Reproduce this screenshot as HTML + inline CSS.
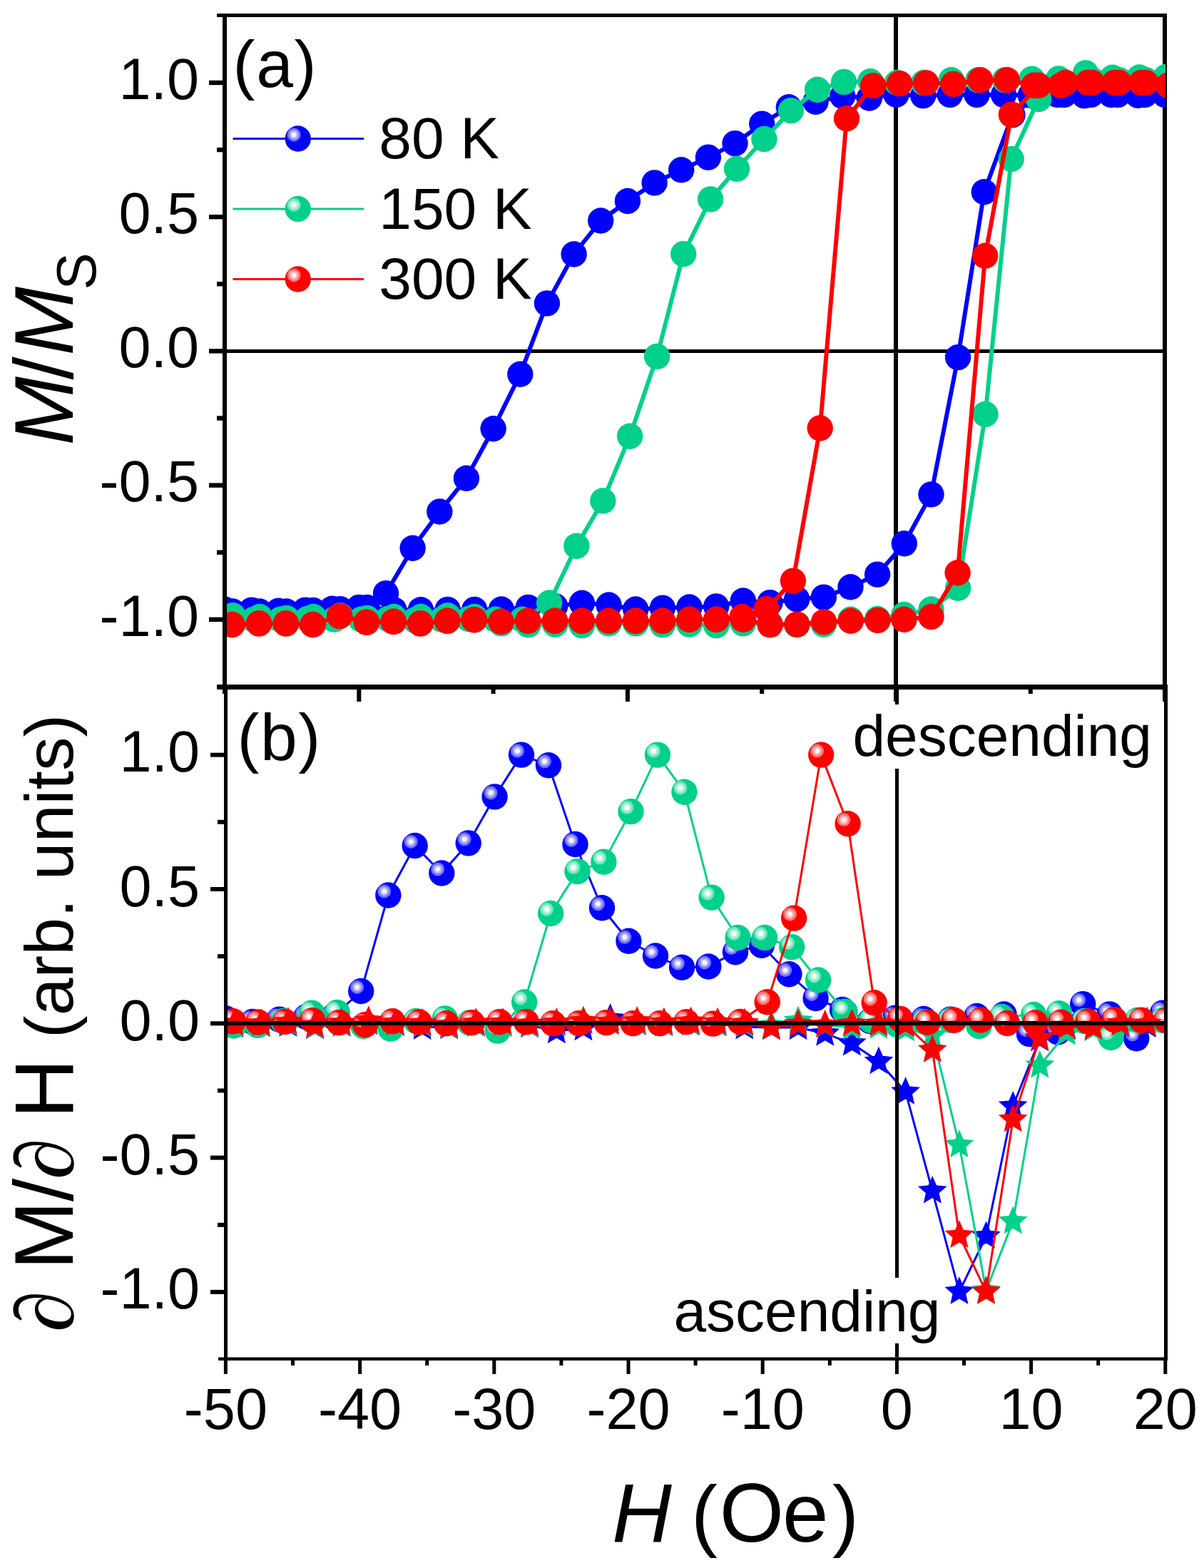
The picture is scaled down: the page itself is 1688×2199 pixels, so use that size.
<!DOCTYPE html>
<html><head><meta charset="utf-8"><title>M/Ms hysteresis</title><style>html,body{margin:0;padding:0;background:#fff;overflow:hidden;}svg{display:block;}</style></head><body>
<svg width="1688" height="2199" viewBox="0 0 1688 2199">
<rect width="1688" height="2199" fill="#fff"/>
<defs><clipPath id="ca"><rect x="318" y="22" width="1316" height="938"/></clipPath><clipPath id="cb"><rect x="319" y="967" width="1313" height="936"/></clipPath></defs>
<rect x="304.0" y="19.0" width="1332.0" height="5.0" fill="#000"/>
<rect x="312.0" y="19.0" width="6.0" height="954.0" fill="#000"/>
<rect x="1630.0" y="19.0" width="6.0" height="965.0" fill="#000"/>
<rect x="304.0" y="960.0" width="1333.0" height="7.0" fill="#000"/>
<rect x="318.0" y="490.0" width="1312.0" height="5.0" fill="#000"/>
<rect x="1253.0" y="24.0" width="6.0" height="960.0" fill="#000"/>
<rect x="293.0" y="112.8" width="19.0" height="6.4" fill="#000"/>
<rect x="293.0" y="301.0" width="19.0" height="6.4" fill="#000"/>
<rect x="293.0" y="489.2" width="19.0" height="6.4" fill="#000"/>
<rect x="293.0" y="677.4" width="19.0" height="6.4" fill="#000"/>
<rect x="293.0" y="865.6" width="19.0" height="6.4" fill="#000"/>
<rect x="304.0" y="206.9" width="8.0" height="6.4" fill="#000"/>
<rect x="304.0" y="395.1" width="8.0" height="6.4" fill="#000"/>
<rect x="304.0" y="583.3" width="8.0" height="6.4" fill="#000"/>
<rect x="304.0" y="771.5" width="8.0" height="6.4" fill="#000"/>
<rect x="500.3" y="967.0" width="6.0" height="17.0" fill="#000"/>
<rect x="876.9" y="967.0" width="6.0" height="17.0" fill="#000"/>
<rect x="1630.1" y="967.0" width="6.0" height="17.0" fill="#000"/>
<rect x="688.6" y="967.0" width="6.0" height="6.0" fill="#000"/>
<rect x="1065.2" y="967.0" width="6.0" height="6.0" fill="#000"/>
<rect x="1441.8" y="967.0" width="6.0" height="6.0" fill="#000"/>
<rect x="314.0" y="963.0" width="5.0" height="945.0" fill="#000"/>
<rect x="1632.0" y="963.0" width="5.0" height="945.0" fill="#000"/>
<rect x="306.0" y="1903.5" width="1331.0" height="4.5" fill="#000"/>
<rect x="295.0" y="1055.7" width="19.0" height="6.0" fill="#000"/>
<rect x="295.0" y="1244.0" width="19.0" height="6.0" fill="#000"/>
<rect x="295.0" y="1432.3" width="19.0" height="6.0" fill="#000"/>
<rect x="295.0" y="1620.6" width="19.0" height="6.0" fill="#000"/>
<rect x="295.0" y="1808.9" width="19.0" height="6.0" fill="#000"/>
<rect x="305.0" y="1149.8" width="9.0" height="6.0" fill="#000"/>
<rect x="305.0" y="1338.1" width="9.0" height="6.0" fill="#000"/>
<rect x="305.0" y="1526.5" width="9.0" height="6.0" fill="#000"/>
<rect x="305.0" y="1714.8" width="9.0" height="6.0" fill="#000"/>
<rect x="313.9" y="1908.0" width="5.0" height="19.0" fill="#000"/>
<rect x="502.1" y="1908.0" width="5.0" height="19.0" fill="#000"/>
<rect x="690.3" y="1908.0" width="5.0" height="19.0" fill="#000"/>
<rect x="878.5" y="1908.0" width="5.0" height="19.0" fill="#000"/>
<rect x="1066.7" y="1908.0" width="5.0" height="19.0" fill="#000"/>
<rect x="1254.9" y="1908.0" width="5.0" height="19.0" fill="#000"/>
<rect x="1443.1" y="1908.0" width="5.0" height="19.0" fill="#000"/>
<rect x="1631.3" y="1908.0" width="5.0" height="19.0" fill="#000"/>
<rect x="408.0" y="1908.0" width="5.0" height="7.0" fill="#000"/>
<rect x="596.2" y="1908.0" width="5.0" height="7.0" fill="#000"/>
<rect x="784.4" y="1908.0" width="5.0" height="7.0" fill="#000"/>
<rect x="972.6" y="1908.0" width="5.0" height="7.0" fill="#000"/>
<rect x="1160.8" y="1908.0" width="5.0" height="7.0" fill="#000"/>
<rect x="1349.0" y="1908.0" width="5.0" height="7.0" fill="#000"/>
<rect x="1537.2" y="1908.0" width="5.0" height="7.0" fill="#000"/>
<g clip-path="url(#ca)">
<polyline points="1633.1,132.9 1595.4,133.7 1557.8,132.9 1520.1,134.1 1482.5,132.9 1444.8,133.7 1407.1,132.9 1369.5,132.9 1331.8,132.9 1294.2,134.1 1256.5,132.6 1218.8,137.5 1181.2,134.8 1143.5,142.7 1105.9,150.3 1068.2,173.6 1030.5,201.1 992.9,220.6 955.2,238.3 917.6,256.4 879.9,282.0 842.2,309.5 804.6,356.5 766.9,425.4 729.3,524.8 691.6,601.2 653.9,670.8 616.3,717.5 578.6,768.7 541.0,832.1 503.3,851.9 465.6,853.7 428.0,855.6 390.3,856.8 352.7,855.6 315.0,854.5 326.3,857.5 364.0,857.5 401.6,857.5 439.3,856.0 476.9,854.1 514.6,851.9 552.3,855.2 589.9,855.2 627.6,854.9 665.2,854.9 702.9,854.5 740.6,851.9 778.2,850.0 815.9,845.8 853.5,848.5 891.2,854.5 928.9,852.6 966.5,851.5 1004.2,850.4 1041.8,842.5 1079.5,845.1 1117.2,840.2 1154.8,837.6 1192.5,823.3 1230.1,805.6 1267.8,762.3 1305.5,693.4 1343.1,501.1 1379.8,269.2 1419.4,161.2 1454.2,134.8 1491.9,132.9 1529.5,132.9 1567.2,132.9 1604.9,132.9" fill="none" stroke="#0000FF" stroke-width="6" stroke-linejoin="round"/>
<circle cx="1633.1" cy="132.9" r="18.2" fill="#0000FF"/><circle cx="1595.4" cy="133.7" r="18.2" fill="#0000FF"/><circle cx="1557.8" cy="132.9" r="18.2" fill="#0000FF"/><circle cx="1520.1" cy="134.1" r="18.2" fill="#0000FF"/><circle cx="1482.5" cy="132.9" r="18.2" fill="#0000FF"/><circle cx="1444.8" cy="133.7" r="18.2" fill="#0000FF"/><circle cx="1407.1" cy="132.9" r="18.2" fill="#0000FF"/><circle cx="1369.5" cy="132.9" r="18.2" fill="#0000FF"/><circle cx="1331.8" cy="132.9" r="18.2" fill="#0000FF"/><circle cx="1294.2" cy="134.1" r="18.2" fill="#0000FF"/><circle cx="1256.5" cy="132.6" r="18.2" fill="#0000FF"/><circle cx="1218.8" cy="137.5" r="18.2" fill="#0000FF"/><circle cx="1181.2" cy="134.8" r="18.2" fill="#0000FF"/><circle cx="1143.5" cy="142.7" r="18.2" fill="#0000FF"/><circle cx="1105.9" cy="150.3" r="18.2" fill="#0000FF"/><circle cx="1068.2" cy="173.6" r="18.2" fill="#0000FF"/><circle cx="1030.5" cy="201.1" r="18.2" fill="#0000FF"/><circle cx="992.9" cy="220.6" r="18.2" fill="#0000FF"/><circle cx="955.2" cy="238.3" r="18.2" fill="#0000FF"/><circle cx="917.6" cy="256.4" r="18.2" fill="#0000FF"/><circle cx="879.9" cy="282.0" r="18.2" fill="#0000FF"/><circle cx="842.2" cy="309.5" r="18.2" fill="#0000FF"/><circle cx="804.6" cy="356.5" r="18.2" fill="#0000FF"/><circle cx="766.9" cy="425.4" r="18.2" fill="#0000FF"/><circle cx="729.3" cy="524.8" r="18.2" fill="#0000FF"/><circle cx="691.6" cy="601.2" r="18.2" fill="#0000FF"/><circle cx="653.9" cy="670.8" r="18.2" fill="#0000FF"/><circle cx="616.3" cy="717.5" r="18.2" fill="#0000FF"/><circle cx="578.6" cy="768.7" r="18.2" fill="#0000FF"/><circle cx="541.0" cy="832.1" r="18.2" fill="#0000FF"/><circle cx="503.3" cy="851.9" r="18.2" fill="#0000FF"/><circle cx="465.6" cy="853.7" r="18.2" fill="#0000FF"/><circle cx="428.0" cy="855.6" r="18.2" fill="#0000FF"/><circle cx="390.3" cy="856.8" r="18.2" fill="#0000FF"/><circle cx="352.7" cy="855.6" r="18.2" fill="#0000FF"/><circle cx="315.0" cy="854.5" r="18.2" fill="#0000FF"/><circle cx="326.3" cy="857.5" r="18.2" fill="#0000FF"/><circle cx="364.0" cy="857.5" r="18.2" fill="#0000FF"/><circle cx="401.6" cy="857.5" r="18.2" fill="#0000FF"/><circle cx="439.3" cy="856.0" r="18.2" fill="#0000FF"/><circle cx="476.9" cy="854.1" r="18.2" fill="#0000FF"/><circle cx="514.6" cy="851.9" r="18.2" fill="#0000FF"/><circle cx="552.3" cy="855.2" r="18.2" fill="#0000FF"/><circle cx="589.9" cy="855.2" r="18.2" fill="#0000FF"/><circle cx="627.6" cy="854.9" r="18.2" fill="#0000FF"/><circle cx="665.2" cy="854.9" r="18.2" fill="#0000FF"/><circle cx="702.9" cy="854.5" r="18.2" fill="#0000FF"/><circle cx="740.6" cy="851.9" r="18.2" fill="#0000FF"/><circle cx="778.2" cy="850.0" r="18.2" fill="#0000FF"/><circle cx="815.9" cy="845.8" r="18.2" fill="#0000FF"/><circle cx="853.5" cy="848.5" r="18.2" fill="#0000FF"/><circle cx="891.2" cy="854.5" r="18.2" fill="#0000FF"/><circle cx="928.9" cy="852.6" r="18.2" fill="#0000FF"/><circle cx="966.5" cy="851.5" r="18.2" fill="#0000FF"/><circle cx="1004.2" cy="850.4" r="18.2" fill="#0000FF"/><circle cx="1041.8" cy="842.5" r="18.2" fill="#0000FF"/><circle cx="1079.5" cy="845.1" r="18.2" fill="#0000FF"/><circle cx="1117.2" cy="840.2" r="18.2" fill="#0000FF"/><circle cx="1154.8" cy="837.6" r="18.2" fill="#0000FF"/><circle cx="1192.5" cy="823.3" r="18.2" fill="#0000FF"/><circle cx="1230.1" cy="805.6" r="18.2" fill="#0000FF"/><circle cx="1267.8" cy="762.3" r="18.2" fill="#0000FF"/><circle cx="1305.5" cy="693.4" r="18.2" fill="#0000FF"/><circle cx="1343.1" cy="501.1" r="18.2" fill="#0000FF"/><circle cx="1379.8" cy="269.2" r="18.2" fill="#0000FF"/><circle cx="1419.4" cy="161.2" r="18.2" fill="#0000FF"/><circle cx="1454.2" cy="134.8" r="18.2" fill="#0000FF"/><circle cx="1491.9" cy="132.9" r="18.2" fill="#0000FF"/><circle cx="1529.5" cy="132.9" r="18.2" fill="#0000FF"/><circle cx="1567.2" cy="132.9" r="18.2" fill="#0000FF"/><circle cx="1604.9" cy="132.9" r="18.2" fill="#0000FF"/>
<polyline points="1635.0,107.7 1597.3,108.5 1559.7,108.8 1522.0,102.4 1484.3,110.4 1446.7,110.7 1409.0,112.2 1371.4,112.2 1333.7,112.2 1295.1,116.0 1257.8,116.0 1220.2,114.1 1183.1,114.9 1146.0,125.8 1108.9,155.1 1071.4,195.0 1033.0,236.8 996.1,279.4 958.2,356.1 921.1,499.9 883.1,611.7 845.3,702.4 808.3,765.7 770.1,845.5 732.1,868.8 694.4,868.8 656.8,868.0 619.1,868.8 581.4,869.6 543.8,868.0 506.1,868.8 468.5,868.8 430.8,868.0 393.1,868.8 355.5,868.8 317.8,868.8 326.3,863.2 364.0,865.0 401.6,866.9 439.3,865.0 476.9,863.2 514.6,866.9 552.3,865.0 589.9,865.0 627.6,863.2 665.2,865.0 702.9,874.4 740.6,876.3 778.2,875.6 815.9,877.1 853.5,874.4 891.2,874.4 928.9,876.3 966.5,875.6 1004.2,877.1 1041.8,874.4 1079.5,874.4 1117.2,876.3 1154.8,875.6 1192.5,868.8 1230.1,868.0 1267.4,862.0 1305.5,854.5 1343.1,824.8 1381.5,580.9 1417.7,222.9 1456.1,139.0 1493.8,116.0 1531.4,112.2 1569.1,112.2 1606.7,112.2" fill="none" stroke="#00D08A" stroke-width="6" stroke-linejoin="round"/>
<circle cx="1635.0" cy="107.7" r="18.2" fill="#00D08A"/><circle cx="1597.3" cy="108.5" r="18.2" fill="#00D08A"/><circle cx="1559.7" cy="108.8" r="18.2" fill="#00D08A"/><circle cx="1522.0" cy="102.4" r="18.2" fill="#00D08A"/><circle cx="1484.3" cy="110.4" r="18.2" fill="#00D08A"/><circle cx="1446.7" cy="110.7" r="18.2" fill="#00D08A"/><circle cx="1409.0" cy="112.2" r="18.2" fill="#00D08A"/><circle cx="1371.4" cy="112.2" r="18.2" fill="#00D08A"/><circle cx="1333.7" cy="112.2" r="18.2" fill="#00D08A"/><circle cx="1295.1" cy="116.0" r="18.2" fill="#00D08A"/><circle cx="1257.8" cy="116.0" r="18.2" fill="#00D08A"/><circle cx="1220.2" cy="114.1" r="18.2" fill="#00D08A"/><circle cx="1183.1" cy="114.9" r="18.2" fill="#00D08A"/><circle cx="1146.0" cy="125.8" r="18.2" fill="#00D08A"/><circle cx="1108.9" cy="155.1" r="18.2" fill="#00D08A"/><circle cx="1071.4" cy="195.0" r="18.2" fill="#00D08A"/><circle cx="1033.0" cy="236.8" r="18.2" fill="#00D08A"/><circle cx="996.1" cy="279.4" r="18.2" fill="#00D08A"/><circle cx="958.2" cy="356.1" r="18.2" fill="#00D08A"/><circle cx="921.1" cy="499.9" r="18.2" fill="#00D08A"/><circle cx="883.1" cy="611.7" r="18.2" fill="#00D08A"/><circle cx="845.3" cy="702.4" r="18.2" fill="#00D08A"/><circle cx="808.3" cy="765.7" r="18.2" fill="#00D08A"/><circle cx="770.1" cy="845.5" r="18.2" fill="#00D08A"/><circle cx="732.1" cy="868.8" r="18.2" fill="#00D08A"/><circle cx="694.4" cy="868.8" r="18.2" fill="#00D08A"/><circle cx="656.8" cy="868.0" r="18.2" fill="#00D08A"/><circle cx="619.1" cy="868.8" r="18.2" fill="#00D08A"/><circle cx="581.4" cy="869.6" r="18.2" fill="#00D08A"/><circle cx="543.8" cy="868.0" r="18.2" fill="#00D08A"/><circle cx="506.1" cy="868.8" r="18.2" fill="#00D08A"/><circle cx="468.5" cy="868.8" r="18.2" fill="#00D08A"/><circle cx="430.8" cy="868.0" r="18.2" fill="#00D08A"/><circle cx="393.1" cy="868.8" r="18.2" fill="#00D08A"/><circle cx="355.5" cy="868.8" r="18.2" fill="#00D08A"/><circle cx="317.8" cy="868.8" r="18.2" fill="#00D08A"/><circle cx="326.3" cy="863.2" r="18.2" fill="#00D08A"/><circle cx="364.0" cy="865.0" r="18.2" fill="#00D08A"/><circle cx="401.6" cy="866.9" r="18.2" fill="#00D08A"/><circle cx="439.3" cy="865.0" r="18.2" fill="#00D08A"/><circle cx="476.9" cy="863.2" r="18.2" fill="#00D08A"/><circle cx="514.6" cy="866.9" r="18.2" fill="#00D08A"/><circle cx="552.3" cy="865.0" r="18.2" fill="#00D08A"/><circle cx="589.9" cy="865.0" r="18.2" fill="#00D08A"/><circle cx="627.6" cy="863.2" r="18.2" fill="#00D08A"/><circle cx="665.2" cy="865.0" r="18.2" fill="#00D08A"/><circle cx="702.9" cy="874.4" r="18.2" fill="#00D08A"/><circle cx="740.6" cy="876.3" r="18.2" fill="#00D08A"/><circle cx="778.2" cy="875.6" r="18.2" fill="#00D08A"/><circle cx="815.9" cy="877.1" r="18.2" fill="#00D08A"/><circle cx="853.5" cy="874.4" r="18.2" fill="#00D08A"/><circle cx="891.2" cy="874.4" r="18.2" fill="#00D08A"/><circle cx="928.9" cy="876.3" r="18.2" fill="#00D08A"/><circle cx="966.5" cy="875.6" r="18.2" fill="#00D08A"/><circle cx="1004.2" cy="877.1" r="18.2" fill="#00D08A"/><circle cx="1041.8" cy="874.4" r="18.2" fill="#00D08A"/><circle cx="1079.5" cy="874.4" r="18.2" fill="#00D08A"/><circle cx="1117.2" cy="876.3" r="18.2" fill="#00D08A"/><circle cx="1154.8" cy="875.6" r="18.2" fill="#00D08A"/><circle cx="1192.5" cy="868.8" r="18.2" fill="#00D08A"/><circle cx="1230.1" cy="868.0" r="18.2" fill="#00D08A"/><circle cx="1267.4" cy="862.0" r="18.2" fill="#00D08A"/><circle cx="1305.5" cy="854.5" r="18.2" fill="#00D08A"/><circle cx="1343.1" cy="824.8" r="18.2" fill="#00D08A"/><circle cx="1381.5" cy="580.9" r="18.2" fill="#00D08A"/><circle cx="1417.7" cy="222.9" r="18.2" fill="#00D08A"/><circle cx="1456.1" cy="139.0" r="18.2" fill="#00D08A"/><circle cx="1493.8" cy="116.0" r="18.2" fill="#00D08A"/><circle cx="1531.4" cy="112.2" r="18.2" fill="#00D08A"/><circle cx="1569.1" cy="112.2" r="18.2" fill="#00D08A"/><circle cx="1606.7" cy="112.2" r="18.2" fill="#00D08A"/>
<polyline points="1637.8,119.8 1600.1,116.0 1562.5,116.0 1524.8,116.0 1487.2,119.8 1449.5,119.8 1411.8,112.2 1374.2,112.2 1336.5,117.9 1298.3,116.4 1261.2,117.1 1224.1,120.1 1187.0,166.1 1149.7,600.4 1111.9,814.6 1074.4,854.1 1040.5,865.0 1004.3,868.8 966.5,868.8 928.8,870.7 891.1,870.7 853.4,870.7 815.7,870.7 778.0,870.7 740.2,870.7 702.5,871.8 664.8,869.2 627.1,870.7 589.4,874.4 551.7,871.8 513.9,872.6 476.2,863.9 438.5,876.0 400.8,874.4 363.1,874.4 325.4,876.0 325.4,876.0 363.1,874.4 400.8,874.4 438.5,876.0 476.2,863.9 513.9,872.6 551.7,871.8 589.4,874.4 627.1,870.7 664.8,869.2 702.5,871.8 740.2,870.7 778.0,870.7 815.7,870.7 853.4,870.7 891.1,870.7 928.8,870.7 966.5,868.8 1004.3,868.8 1042.0,868.8 1079.7,876.3 1117.4,875.6 1155.1,872.2 1192.8,870.7 1230.6,869.9 1267.4,868.8 1305.5,865.0 1342.6,803.3 1381.2,358.8 1417.9,160.8 1456.1,119.8 1493.8,116.0 1531.4,116.0 1569.1,116.0 1606.7,116.0" fill="none" stroke="#FF0000" stroke-width="6" stroke-linejoin="round"/>
<circle cx="1637.8" cy="119.8" r="18.2" fill="#FF0000"/><circle cx="1600.1" cy="116.0" r="18.2" fill="#FF0000"/><circle cx="1562.5" cy="116.0" r="18.2" fill="#FF0000"/><circle cx="1524.8" cy="116.0" r="18.2" fill="#FF0000"/><circle cx="1487.2" cy="119.8" r="18.2" fill="#FF0000"/><circle cx="1449.5" cy="119.8" r="18.2" fill="#FF0000"/><circle cx="1411.8" cy="112.2" r="18.2" fill="#FF0000"/><circle cx="1374.2" cy="112.2" r="18.2" fill="#FF0000"/><circle cx="1336.5" cy="117.9" r="18.2" fill="#FF0000"/><circle cx="1298.3" cy="116.4" r="18.2" fill="#FF0000"/><circle cx="1261.2" cy="117.1" r="18.2" fill="#FF0000"/><circle cx="1224.1" cy="120.1" r="18.2" fill="#FF0000"/><circle cx="1187.0" cy="166.1" r="18.2" fill="#FF0000"/><circle cx="1149.7" cy="600.4" r="18.2" fill="#FF0000"/><circle cx="1111.9" cy="814.6" r="18.2" fill="#FF0000"/><circle cx="1074.4" cy="854.1" r="18.2" fill="#FF0000"/><circle cx="1040.5" cy="865.0" r="18.2" fill="#FF0000"/><circle cx="1004.3" cy="868.8" r="18.2" fill="#FF0000"/><circle cx="966.5" cy="868.8" r="18.2" fill="#FF0000"/><circle cx="928.8" cy="870.7" r="18.2" fill="#FF0000"/><circle cx="891.1" cy="870.7" r="18.2" fill="#FF0000"/><circle cx="853.4" cy="870.7" r="18.2" fill="#FF0000"/><circle cx="815.7" cy="870.7" r="18.2" fill="#FF0000"/><circle cx="778.0" cy="870.7" r="18.2" fill="#FF0000"/><circle cx="740.2" cy="870.7" r="18.2" fill="#FF0000"/><circle cx="702.5" cy="871.8" r="18.2" fill="#FF0000"/><circle cx="664.8" cy="869.2" r="18.2" fill="#FF0000"/><circle cx="627.1" cy="870.7" r="18.2" fill="#FF0000"/><circle cx="589.4" cy="874.4" r="18.2" fill="#FF0000"/><circle cx="551.7" cy="871.8" r="18.2" fill="#FF0000"/><circle cx="513.9" cy="872.6" r="18.2" fill="#FF0000"/><circle cx="476.2" cy="863.9" r="18.2" fill="#FF0000"/><circle cx="438.5" cy="876.0" r="18.2" fill="#FF0000"/><circle cx="400.8" cy="874.4" r="18.2" fill="#FF0000"/><circle cx="363.1" cy="874.4" r="18.2" fill="#FF0000"/><circle cx="325.4" cy="876.0" r="18.2" fill="#FF0000"/><circle cx="325.4" cy="876.0" r="18.2" fill="#FF0000"/><circle cx="363.1" cy="874.4" r="18.2" fill="#FF0000"/><circle cx="400.8" cy="874.4" r="18.2" fill="#FF0000"/><circle cx="438.5" cy="876.0" r="18.2" fill="#FF0000"/><circle cx="476.2" cy="863.9" r="18.2" fill="#FF0000"/><circle cx="513.9" cy="872.6" r="18.2" fill="#FF0000"/><circle cx="551.7" cy="871.8" r="18.2" fill="#FF0000"/><circle cx="589.4" cy="874.4" r="18.2" fill="#FF0000"/><circle cx="627.1" cy="870.7" r="18.2" fill="#FF0000"/><circle cx="664.8" cy="869.2" r="18.2" fill="#FF0000"/><circle cx="702.5" cy="871.8" r="18.2" fill="#FF0000"/><circle cx="740.2" cy="870.7" r="18.2" fill="#FF0000"/><circle cx="778.0" cy="870.7" r="18.2" fill="#FF0000"/><circle cx="815.7" cy="870.7" r="18.2" fill="#FF0000"/><circle cx="853.4" cy="870.7" r="18.2" fill="#FF0000"/><circle cx="891.1" cy="870.7" r="18.2" fill="#FF0000"/><circle cx="928.8" cy="870.7" r="18.2" fill="#FF0000"/><circle cx="966.5" cy="868.8" r="18.2" fill="#FF0000"/><circle cx="1004.3" cy="868.8" r="18.2" fill="#FF0000"/><circle cx="1042.0" cy="868.8" r="18.2" fill="#FF0000"/><circle cx="1079.7" cy="876.3" r="18.2" fill="#FF0000"/><circle cx="1117.4" cy="875.6" r="18.2" fill="#FF0000"/><circle cx="1155.1" cy="872.2" r="18.2" fill="#FF0000"/><circle cx="1192.8" cy="870.7" r="18.2" fill="#FF0000"/><circle cx="1230.6" cy="869.9" r="18.2" fill="#FF0000"/><circle cx="1267.4" cy="868.8" r="18.2" fill="#FF0000"/><circle cx="1305.5" cy="865.0" r="18.2" fill="#FF0000"/><circle cx="1342.6" cy="803.3" r="18.2" fill="#FF0000"/><circle cx="1381.2" cy="358.8" r="18.2" fill="#FF0000"/><circle cx="1417.9" cy="160.8" r="18.2" fill="#FF0000"/><circle cx="1456.1" cy="119.8" r="18.2" fill="#FF0000"/><circle cx="1493.8" cy="116.0" r="18.2" fill="#FF0000"/><circle cx="1531.4" cy="116.0" r="18.2" fill="#FF0000"/><circle cx="1569.1" cy="116.0" r="18.2" fill="#FF0000"/><circle cx="1606.7" cy="116.0" r="18.2" fill="#FF0000"/>
</g>
<g clip-path="url(#cb)">
<polyline points="1630.1,1420.6 1593.2,1456.3 1555.7,1422.4 1518.2,1408.1 1483.2,1447.4 1443.0,1450.0 1407.5,1422.5 1369.5,1425.0 1332.6,1429.6 1295.0,1429.0 1254.9,1427.7 1219.8,1432.0 1181.0,1416.0 1143.6,1400.0 1106.4,1366.2 1067.9,1325.7 1031.0,1335.2 993.3,1355.5 956.0,1356.7 919.0,1340.5 881.4,1319.8 844.0,1273.3 806.5,1184.0 769.0,1073.3 731.0,1058.6 693.6,1117.4 656.7,1182.4 619.3,1224.5 581.7,1186.0 544.3,1255.5 506.2,1390.0 467.0,1426.0 429.3,1426.0 391.7,1429.6 354.0,1433.0 316.4,1428.2" fill="none" stroke="#0000FF" stroke-width="3" stroke-linejoin="round"/>
<circle cx="1630.1" cy="1420.6" r="18.2" fill="#0000FF"/><circle cx="1624.5" cy="1415.0" r="9.5" fill="#7373FF"/><circle cx="1624.5" cy="1415.0" r="6.4" fill="#B2B2FF"/><circle cx="1624.5" cy="1415.0" r="3.4" fill="#F7F7FF"/><circle cx="1593.2" cy="1456.3" r="18.2" fill="#0000FF"/><circle cx="1587.6" cy="1450.7" r="9.5" fill="#7373FF"/><circle cx="1587.6" cy="1450.7" r="6.4" fill="#B2B2FF"/><circle cx="1587.6" cy="1450.7" r="3.4" fill="#F7F7FF"/><circle cx="1555.7" cy="1422.4" r="18.2" fill="#0000FF"/><circle cx="1550.1" cy="1416.8" r="9.5" fill="#7373FF"/><circle cx="1550.1" cy="1416.8" r="6.4" fill="#B2B2FF"/><circle cx="1550.1" cy="1416.8" r="3.4" fill="#F7F7FF"/><circle cx="1518.2" cy="1408.1" r="18.2" fill="#0000FF"/><circle cx="1512.6" cy="1402.5" r="9.5" fill="#7373FF"/><circle cx="1512.6" cy="1402.5" r="6.4" fill="#B2B2FF"/><circle cx="1512.6" cy="1402.5" r="3.4" fill="#F7F7FF"/><circle cx="1483.2" cy="1447.4" r="18.2" fill="#0000FF"/><circle cx="1477.6" cy="1441.8" r="9.5" fill="#7373FF"/><circle cx="1477.6" cy="1441.8" r="6.4" fill="#B2B2FF"/><circle cx="1477.6" cy="1441.8" r="3.4" fill="#F7F7FF"/><circle cx="1443.0" cy="1450.0" r="18.2" fill="#0000FF"/><circle cx="1437.4" cy="1444.4" r="9.5" fill="#7373FF"/><circle cx="1437.4" cy="1444.4" r="6.4" fill="#B2B2FF"/><circle cx="1437.4" cy="1444.4" r="3.4" fill="#F7F7FF"/><circle cx="1407.5" cy="1422.5" r="18.2" fill="#0000FF"/><circle cx="1401.9" cy="1416.9" r="9.5" fill="#7373FF"/><circle cx="1401.9" cy="1416.9" r="6.4" fill="#B2B2FF"/><circle cx="1401.9" cy="1416.9" r="3.4" fill="#F7F7FF"/><circle cx="1369.5" cy="1425.0" r="18.2" fill="#0000FF"/><circle cx="1363.9" cy="1419.4" r="9.5" fill="#7373FF"/><circle cx="1363.9" cy="1419.4" r="6.4" fill="#B2B2FF"/><circle cx="1363.9" cy="1419.4" r="3.4" fill="#F7F7FF"/><circle cx="1332.6" cy="1429.6" r="18.2" fill="#0000FF"/><circle cx="1327.0" cy="1424.0" r="9.5" fill="#7373FF"/><circle cx="1327.0" cy="1424.0" r="6.4" fill="#B2B2FF"/><circle cx="1327.0" cy="1424.0" r="3.4" fill="#F7F7FF"/><circle cx="1295.0" cy="1429.0" r="18.2" fill="#0000FF"/><circle cx="1289.4" cy="1423.4" r="9.5" fill="#7373FF"/><circle cx="1289.4" cy="1423.4" r="6.4" fill="#B2B2FF"/><circle cx="1289.4" cy="1423.4" r="3.4" fill="#F7F7FF"/><circle cx="1254.9" cy="1427.7" r="18.2" fill="#0000FF"/><circle cx="1249.3" cy="1422.1" r="9.5" fill="#7373FF"/><circle cx="1249.3" cy="1422.1" r="6.4" fill="#B2B2FF"/><circle cx="1249.3" cy="1422.1" r="3.4" fill="#F7F7FF"/><circle cx="1219.8" cy="1432.0" r="18.2" fill="#0000FF"/><circle cx="1214.2" cy="1426.4" r="9.5" fill="#7373FF"/><circle cx="1214.2" cy="1426.4" r="6.4" fill="#B2B2FF"/><circle cx="1214.2" cy="1426.4" r="3.4" fill="#F7F7FF"/><circle cx="1181.0" cy="1416.0" r="18.2" fill="#0000FF"/><circle cx="1175.4" cy="1410.4" r="9.5" fill="#7373FF"/><circle cx="1175.4" cy="1410.4" r="6.4" fill="#B2B2FF"/><circle cx="1175.4" cy="1410.4" r="3.4" fill="#F7F7FF"/><circle cx="1143.6" cy="1400.0" r="18.2" fill="#0000FF"/><circle cx="1138.0" cy="1394.4" r="9.5" fill="#7373FF"/><circle cx="1138.0" cy="1394.4" r="6.4" fill="#B2B2FF"/><circle cx="1138.0" cy="1394.4" r="3.4" fill="#F7F7FF"/><circle cx="1106.4" cy="1366.2" r="18.2" fill="#0000FF"/><circle cx="1100.8" cy="1360.6" r="9.5" fill="#7373FF"/><circle cx="1100.8" cy="1360.6" r="6.4" fill="#B2B2FF"/><circle cx="1100.8" cy="1360.6" r="3.4" fill="#F7F7FF"/><circle cx="1067.9" cy="1325.7" r="18.2" fill="#0000FF"/><circle cx="1062.3" cy="1320.1" r="9.5" fill="#7373FF"/><circle cx="1062.3" cy="1320.1" r="6.4" fill="#B2B2FF"/><circle cx="1062.3" cy="1320.1" r="3.4" fill="#F7F7FF"/><circle cx="1031.0" cy="1335.2" r="18.2" fill="#0000FF"/><circle cx="1025.4" cy="1329.6" r="9.5" fill="#7373FF"/><circle cx="1025.4" cy="1329.6" r="6.4" fill="#B2B2FF"/><circle cx="1025.4" cy="1329.6" r="3.4" fill="#F7F7FF"/><circle cx="993.3" cy="1355.5" r="18.2" fill="#0000FF"/><circle cx="987.7" cy="1349.9" r="9.5" fill="#7373FF"/><circle cx="987.7" cy="1349.9" r="6.4" fill="#B2B2FF"/><circle cx="987.7" cy="1349.9" r="3.4" fill="#F7F7FF"/><circle cx="956.0" cy="1356.7" r="18.2" fill="#0000FF"/><circle cx="950.4" cy="1351.1" r="9.5" fill="#7373FF"/><circle cx="950.4" cy="1351.1" r="6.4" fill="#B2B2FF"/><circle cx="950.4" cy="1351.1" r="3.4" fill="#F7F7FF"/><circle cx="919.0" cy="1340.5" r="18.2" fill="#0000FF"/><circle cx="913.4" cy="1334.9" r="9.5" fill="#7373FF"/><circle cx="913.4" cy="1334.9" r="6.4" fill="#B2B2FF"/><circle cx="913.4" cy="1334.9" r="3.4" fill="#F7F7FF"/><circle cx="881.4" cy="1319.8" r="18.2" fill="#0000FF"/><circle cx="875.8" cy="1314.2" r="9.5" fill="#7373FF"/><circle cx="875.8" cy="1314.2" r="6.4" fill="#B2B2FF"/><circle cx="875.8" cy="1314.2" r="3.4" fill="#F7F7FF"/><circle cx="844.0" cy="1273.3" r="18.2" fill="#0000FF"/><circle cx="838.4" cy="1267.7" r="9.5" fill="#7373FF"/><circle cx="838.4" cy="1267.7" r="6.4" fill="#B2B2FF"/><circle cx="838.4" cy="1267.7" r="3.4" fill="#F7F7FF"/><circle cx="806.5" cy="1184.0" r="18.2" fill="#0000FF"/><circle cx="800.9" cy="1178.4" r="9.5" fill="#7373FF"/><circle cx="800.9" cy="1178.4" r="6.4" fill="#B2B2FF"/><circle cx="800.9" cy="1178.4" r="3.4" fill="#F7F7FF"/><circle cx="769.0" cy="1073.3" r="18.2" fill="#0000FF"/><circle cx="763.4" cy="1067.7" r="9.5" fill="#7373FF"/><circle cx="763.4" cy="1067.7" r="6.4" fill="#B2B2FF"/><circle cx="763.4" cy="1067.7" r="3.4" fill="#F7F7FF"/><circle cx="731.0" cy="1058.6" r="18.2" fill="#0000FF"/><circle cx="725.4" cy="1053.0" r="9.5" fill="#7373FF"/><circle cx="725.4" cy="1053.0" r="6.4" fill="#B2B2FF"/><circle cx="725.4" cy="1053.0" r="3.4" fill="#F7F7FF"/><circle cx="693.6" cy="1117.4" r="18.2" fill="#0000FF"/><circle cx="688.0" cy="1111.8" r="9.5" fill="#7373FF"/><circle cx="688.0" cy="1111.8" r="6.4" fill="#B2B2FF"/><circle cx="688.0" cy="1111.8" r="3.4" fill="#F7F7FF"/><circle cx="656.7" cy="1182.4" r="18.2" fill="#0000FF"/><circle cx="651.1" cy="1176.8" r="9.5" fill="#7373FF"/><circle cx="651.1" cy="1176.8" r="6.4" fill="#B2B2FF"/><circle cx="651.1" cy="1176.8" r="3.4" fill="#F7F7FF"/><circle cx="619.3" cy="1224.5" r="18.2" fill="#0000FF"/><circle cx="613.7" cy="1218.9" r="9.5" fill="#7373FF"/><circle cx="613.7" cy="1218.9" r="6.4" fill="#B2B2FF"/><circle cx="613.7" cy="1218.9" r="3.4" fill="#F7F7FF"/><circle cx="581.7" cy="1186.0" r="18.2" fill="#0000FF"/><circle cx="576.1" cy="1180.4" r="9.5" fill="#7373FF"/><circle cx="576.1" cy="1180.4" r="6.4" fill="#B2B2FF"/><circle cx="576.1" cy="1180.4" r="3.4" fill="#F7F7FF"/><circle cx="544.3" cy="1255.5" r="18.2" fill="#0000FF"/><circle cx="538.7" cy="1249.9" r="9.5" fill="#7373FF"/><circle cx="538.7" cy="1249.9" r="6.4" fill="#B2B2FF"/><circle cx="538.7" cy="1249.9" r="3.4" fill="#F7F7FF"/><circle cx="506.2" cy="1390.0" r="18.2" fill="#0000FF"/><circle cx="500.6" cy="1384.4" r="9.5" fill="#7373FF"/><circle cx="500.6" cy="1384.4" r="6.4" fill="#B2B2FF"/><circle cx="500.6" cy="1384.4" r="3.4" fill="#F7F7FF"/><circle cx="467.0" cy="1426.0" r="18.2" fill="#0000FF"/><circle cx="461.4" cy="1420.4" r="9.5" fill="#7373FF"/><circle cx="461.4" cy="1420.4" r="6.4" fill="#B2B2FF"/><circle cx="461.4" cy="1420.4" r="3.4" fill="#F7F7FF"/><circle cx="429.3" cy="1426.0" r="18.2" fill="#0000FF"/><circle cx="423.7" cy="1420.4" r="9.5" fill="#7373FF"/><circle cx="423.7" cy="1420.4" r="6.4" fill="#B2B2FF"/><circle cx="423.7" cy="1420.4" r="3.4" fill="#F7F7FF"/><circle cx="391.7" cy="1429.6" r="18.2" fill="#0000FF"/><circle cx="386.1" cy="1424.0" r="9.5" fill="#7373FF"/><circle cx="386.1" cy="1424.0" r="6.4" fill="#B2B2FF"/><circle cx="386.1" cy="1424.0" r="3.4" fill="#F7F7FF"/><circle cx="354.0" cy="1433.0" r="18.2" fill="#0000FF"/><circle cx="348.4" cy="1427.4" r="9.5" fill="#7373FF"/><circle cx="348.4" cy="1427.4" r="6.4" fill="#B2B2FF"/><circle cx="348.4" cy="1427.4" r="3.4" fill="#F7F7FF"/><circle cx="316.4" cy="1428.2" r="18.2" fill="#0000FF"/><circle cx="310.8" cy="1422.6" r="9.5" fill="#7373FF"/><circle cx="310.8" cy="1422.6" r="6.4" fill="#B2B2FF"/><circle cx="310.8" cy="1422.6" r="3.4" fill="#F7F7FF"/>
<polyline points="328.6,1437.6 366.2,1437.0 403.9,1436.4 441.5,1440.0 479.2,1436.5 516.8,1434.0 554.4,1436.0 592.1,1440.6 629.7,1440.0 667.4,1436.5 705.0,1436.5 742.6,1438.0 780.3,1446.0 817.9,1442.0 855.6,1428.5 893.2,1434.5 930.8,1436.0 968.5,1435.0 1006.1,1436.0 1043.8,1440.2 1081.4,1441.0 1119.0,1441.0 1156.7,1449.4 1194.3,1463.3 1232.0,1488.8 1269.6,1531.4 1307.2,1670.3 1344.9,1811.6 1382.5,1733.8 1420.2,1551.4 1457.8,1457.0 1495.4,1441.0 1533.1,1442.0 1570.7,1437.0 1608.4,1437.6" fill="none" stroke="#0000FF" stroke-width="3" stroke-linejoin="round"/>
<path d="M328.6,1416.2 L334.4,1429.6 L349.0,1431.0 L338.0,1440.6 L341.2,1454.9 L328.6,1447.4 L316.0,1454.9 L319.2,1440.6 L308.2,1431.0 L322.8,1429.6Z M366.2,1415.6 L372.0,1429.0 L386.6,1430.4 L375.6,1440.0 L378.8,1454.3 L366.2,1446.8 L353.7,1454.3 L356.9,1440.0 L345.9,1430.4 L360.5,1429.0Z M403.9,1415.0 L409.7,1428.4 L424.2,1429.8 L413.2,1439.4 L416.5,1453.7 L403.9,1446.2 L391.3,1453.7 L394.5,1439.4 L383.5,1429.8 L398.1,1428.4Z M441.5,1418.6 L447.3,1432.0 L461.9,1433.4 L450.9,1443.0 L454.1,1457.3 L441.5,1449.8 L428.9,1457.3 L432.2,1443.0 L421.2,1433.4 L435.7,1432.0Z M479.2,1415.1 L484.9,1428.5 L499.5,1429.9 L488.5,1439.5 L491.7,1453.8 L479.2,1446.3 L466.6,1453.8 L469.8,1439.5 L458.8,1429.9 L473.4,1428.5Z M516.8,1412.6 L522.6,1426.0 L537.2,1427.4 L526.2,1437.0 L529.4,1451.3 L516.8,1443.8 L504.2,1451.3 L507.4,1437.0 L496.4,1427.4 L511.0,1426.0Z M554.4,1414.6 L560.2,1428.0 L574.8,1429.4 L563.8,1439.0 L567.0,1453.3 L554.4,1445.8 L541.9,1453.3 L545.1,1439.0 L534.1,1429.4 L548.7,1428.0Z M592.1,1419.2 L597.9,1432.6 L612.4,1434.0 L601.4,1443.6 L604.7,1457.9 L592.1,1450.4 L579.5,1457.9 L582.7,1443.6 L571.7,1434.0 L586.3,1432.6Z M629.7,1418.6 L635.5,1432.0 L650.1,1433.4 L639.1,1443.0 L642.3,1457.3 L629.7,1449.8 L617.1,1457.3 L620.4,1443.0 L609.4,1433.4 L623.9,1432.0Z M667.4,1415.1 L673.1,1428.5 L687.7,1429.9 L676.7,1439.5 L679.9,1453.8 L667.4,1446.3 L654.8,1453.8 L658.0,1439.5 L647.0,1429.9 L661.6,1428.5Z M705.0,1415.1 L710.8,1428.5 L725.4,1429.9 L714.4,1439.5 L717.6,1453.8 L705.0,1446.3 L692.4,1453.8 L695.6,1439.5 L684.6,1429.9 L699.2,1428.5Z M742.6,1416.6 L748.4,1430.0 L763.0,1431.4 L752.0,1441.0 L755.2,1455.3 L742.6,1447.8 L730.1,1455.3 L733.3,1441.0 L722.3,1431.4 L736.9,1430.0Z M780.3,1424.6 L786.1,1438.0 L800.6,1439.4 L789.6,1449.0 L792.9,1463.3 L780.3,1455.8 L767.7,1463.3 L770.9,1449.0 L759.9,1439.4 L774.5,1438.0Z M817.9,1420.6 L823.7,1434.0 L838.3,1435.4 L827.3,1445.0 L830.5,1459.3 L817.9,1451.8 L805.3,1459.3 L808.6,1445.0 L797.6,1435.4 L812.1,1434.0Z M855.6,1407.1 L861.3,1420.5 L875.9,1421.9 L864.9,1431.5 L868.1,1445.8 L855.6,1438.3 L843.0,1445.8 L846.2,1431.5 L835.2,1421.9 L849.8,1420.5Z M893.2,1413.1 L899.0,1426.5 L913.6,1427.9 L902.6,1437.5 L905.8,1451.8 L893.2,1444.3 L880.6,1451.8 L883.8,1437.5 L872.8,1427.9 L887.4,1426.5Z M930.8,1414.6 L936.6,1428.0 L951.2,1429.4 L940.2,1439.0 L943.4,1453.3 L930.8,1445.8 L918.3,1453.3 L921.5,1439.0 L910.5,1429.4 L925.1,1428.0Z M968.5,1413.6 L974.3,1427.0 L988.8,1428.4 L977.8,1438.0 L981.1,1452.3 L968.5,1444.8 L955.9,1452.3 L959.1,1438.0 L948.1,1428.4 L962.7,1427.0Z M1006.1,1414.6 L1011.9,1428.0 L1026.5,1429.4 L1015.5,1439.0 L1018.7,1453.3 L1006.1,1445.8 L993.5,1453.3 L996.8,1439.0 L985.8,1429.4 L1000.3,1428.0Z M1043.8,1418.8 L1049.5,1432.2 L1064.1,1433.6 L1053.1,1443.2 L1056.3,1457.5 L1043.8,1450.0 L1031.2,1457.5 L1034.4,1443.2 L1023.4,1433.6 L1038.0,1432.2Z M1081.4,1419.6 L1087.2,1433.0 L1101.8,1434.4 L1090.8,1444.0 L1094.0,1458.3 L1081.4,1450.8 L1068.8,1458.3 L1072.0,1444.0 L1061.0,1434.4 L1075.6,1433.0Z M1119.0,1419.6 L1124.8,1433.0 L1139.4,1434.4 L1128.4,1444.0 L1131.6,1458.3 L1119.0,1450.8 L1106.5,1458.3 L1109.7,1444.0 L1098.7,1434.4 L1113.3,1433.0Z M1156.7,1428.0 L1162.5,1441.4 L1177.0,1442.8 L1166.0,1452.4 L1169.3,1466.7 L1156.7,1459.2 L1144.1,1466.7 L1147.3,1452.4 L1136.3,1442.8 L1150.9,1441.4Z M1194.3,1441.9 L1200.1,1455.3 L1214.7,1456.7 L1203.7,1466.3 L1206.9,1480.6 L1194.3,1473.1 L1181.7,1480.6 L1185.0,1466.3 L1174.0,1456.7 L1188.5,1455.3Z M1232.0,1467.4 L1237.7,1480.8 L1252.3,1482.2 L1241.3,1491.8 L1244.5,1506.1 L1232.0,1498.6 L1219.4,1506.1 L1222.6,1491.8 L1211.6,1482.2 L1226.2,1480.8Z M1269.6,1510.0 L1275.4,1523.4 L1290.0,1524.8 L1279.0,1534.4 L1282.2,1548.7 L1269.6,1541.2 L1257.0,1548.7 L1260.2,1534.4 L1249.2,1524.8 L1263.8,1523.4Z M1307.2,1648.9 L1313.0,1662.3 L1327.6,1663.7 L1316.6,1673.3 L1319.8,1687.6 L1307.2,1680.1 L1294.7,1687.6 L1297.9,1673.3 L1286.9,1663.7 L1301.5,1662.3Z M1344.9,1790.2 L1350.7,1803.6 L1365.2,1805.0 L1354.2,1814.6 L1357.5,1828.9 L1344.9,1821.4 L1332.3,1828.9 L1335.5,1814.6 L1324.5,1805.0 L1339.1,1803.6Z M1382.5,1712.4 L1388.3,1725.8 L1402.9,1727.2 L1391.9,1736.8 L1395.1,1751.1 L1382.5,1743.6 L1369.9,1751.1 L1373.2,1736.8 L1362.2,1727.2 L1376.7,1725.8Z M1420.2,1530.0 L1425.9,1543.4 L1440.5,1544.8 L1429.5,1554.4 L1432.7,1568.7 L1420.2,1561.2 L1407.6,1568.7 L1410.8,1554.4 L1399.8,1544.8 L1414.4,1543.4Z M1457.8,1435.6 L1463.6,1449.0 L1478.2,1450.4 L1467.2,1460.0 L1470.4,1474.3 L1457.8,1466.8 L1445.2,1474.3 L1448.4,1460.0 L1437.4,1450.4 L1452.0,1449.0Z M1495.4,1419.6 L1501.2,1433.0 L1515.8,1434.4 L1504.8,1444.0 L1508.0,1458.3 L1495.4,1450.8 L1482.9,1458.3 L1486.1,1444.0 L1475.1,1434.4 L1489.7,1433.0Z M1533.1,1420.6 L1538.9,1434.0 L1553.4,1435.4 L1542.4,1445.0 L1545.7,1459.3 L1533.1,1451.8 L1520.5,1459.3 L1523.7,1445.0 L1512.7,1435.4 L1527.3,1434.0Z M1570.7,1415.6 L1576.5,1429.0 L1591.1,1430.4 L1580.1,1440.0 L1583.3,1454.3 L1570.7,1446.8 L1558.1,1454.3 L1561.4,1440.0 L1550.4,1430.4 L1564.9,1429.0Z M1608.4,1416.2 L1614.1,1429.6 L1628.7,1431.0 L1617.7,1440.6 L1620.9,1454.9 L1608.4,1447.4 L1595.8,1454.9 L1599.0,1440.6 L1588.0,1431.0 L1602.6,1429.6Z" fill="#0000FF"/>
<polyline points="1630.0,1431.0 1594.8,1430.8 1557.5,1455.0 1520.0,1432.0 1484.9,1421.2 1449.2,1423.0 1404.5,1426.0 1372.5,1439.0 1332.6,1430.8 1296.6,1433.2 1258.0,1437.0 1221.6,1431.3 1184.6,1418.8 1147.1,1374.5 1110.2,1328.1 1072.1,1315.0 1034.5,1315.0 997.6,1258.6 959.5,1110.7 921.9,1058.6 884.5,1138.1 846.4,1208.6 809.5,1222.1 772.1,1281.0 735.2,1405.5 697.7,1445.6 658.3,1434.4 623.8,1428.4 583.3,1432.0 547.6,1442.6 509.5,1439.0 472.7,1420.0 437.0,1420.6 397.0,1432.0 361.2,1437.9 327.9,1438.5" fill="none" stroke="#00D08A" stroke-width="3" stroke-linejoin="round"/>
<circle cx="1630.0" cy="1431.0" r="18.2" fill="#00D08A"/><circle cx="1624.4" cy="1425.4" r="9.5" fill="#73E5BF"/><circle cx="1624.4" cy="1425.4" r="6.4" fill="#B2F1DC"/><circle cx="1624.4" cy="1425.4" r="3.4" fill="#F7FEFB"/><circle cx="1594.8" cy="1430.8" r="18.2" fill="#00D08A"/><circle cx="1589.2" cy="1425.2" r="9.5" fill="#73E5BF"/><circle cx="1589.2" cy="1425.2" r="6.4" fill="#B2F1DC"/><circle cx="1589.2" cy="1425.2" r="3.4" fill="#F7FEFB"/><circle cx="1557.5" cy="1455.0" r="18.2" fill="#00D08A"/><circle cx="1551.9" cy="1449.4" r="9.5" fill="#73E5BF"/><circle cx="1551.9" cy="1449.4" r="6.4" fill="#B2F1DC"/><circle cx="1551.9" cy="1449.4" r="3.4" fill="#F7FEFB"/><circle cx="1520.0" cy="1432.0" r="18.2" fill="#00D08A"/><circle cx="1514.4" cy="1426.4" r="9.5" fill="#73E5BF"/><circle cx="1514.4" cy="1426.4" r="6.4" fill="#B2F1DC"/><circle cx="1514.4" cy="1426.4" r="3.4" fill="#F7FEFB"/><circle cx="1484.9" cy="1421.2" r="18.2" fill="#00D08A"/><circle cx="1479.3" cy="1415.6" r="9.5" fill="#73E5BF"/><circle cx="1479.3" cy="1415.6" r="6.4" fill="#B2F1DC"/><circle cx="1479.3" cy="1415.6" r="3.4" fill="#F7FEFB"/><circle cx="1449.2" cy="1423.0" r="18.2" fill="#00D08A"/><circle cx="1443.6" cy="1417.4" r="9.5" fill="#73E5BF"/><circle cx="1443.6" cy="1417.4" r="6.4" fill="#B2F1DC"/><circle cx="1443.6" cy="1417.4" r="3.4" fill="#F7FEFB"/><circle cx="1404.5" cy="1426.0" r="18.2" fill="#00D08A"/><circle cx="1398.9" cy="1420.4" r="9.5" fill="#73E5BF"/><circle cx="1398.9" cy="1420.4" r="6.4" fill="#B2F1DC"/><circle cx="1398.9" cy="1420.4" r="3.4" fill="#F7FEFB"/><circle cx="1372.5" cy="1439.0" r="18.2" fill="#00D08A"/><circle cx="1366.9" cy="1433.4" r="9.5" fill="#73E5BF"/><circle cx="1366.9" cy="1433.4" r="6.4" fill="#B2F1DC"/><circle cx="1366.9" cy="1433.4" r="3.4" fill="#F7FEFB"/><circle cx="1332.6" cy="1430.8" r="18.2" fill="#00D08A"/><circle cx="1327.0" cy="1425.2" r="9.5" fill="#73E5BF"/><circle cx="1327.0" cy="1425.2" r="6.4" fill="#B2F1DC"/><circle cx="1327.0" cy="1425.2" r="3.4" fill="#F7FEFB"/><circle cx="1296.6" cy="1433.2" r="18.2" fill="#00D08A"/><circle cx="1291.0" cy="1427.6" r="9.5" fill="#73E5BF"/><circle cx="1291.0" cy="1427.6" r="6.4" fill="#B2F1DC"/><circle cx="1291.0" cy="1427.6" r="3.4" fill="#F7FEFB"/><circle cx="1258.0" cy="1437.0" r="18.2" fill="#00D08A"/><circle cx="1252.4" cy="1431.4" r="9.5" fill="#73E5BF"/><circle cx="1252.4" cy="1431.4" r="6.4" fill="#B2F1DC"/><circle cx="1252.4" cy="1431.4" r="3.4" fill="#F7FEFB"/><circle cx="1221.6" cy="1431.3" r="18.2" fill="#00D08A"/><circle cx="1216.0" cy="1425.7" r="9.5" fill="#73E5BF"/><circle cx="1216.0" cy="1425.7" r="6.4" fill="#B2F1DC"/><circle cx="1216.0" cy="1425.7" r="3.4" fill="#F7FEFB"/><circle cx="1184.6" cy="1418.8" r="18.2" fill="#00D08A"/><circle cx="1179.0" cy="1413.2" r="9.5" fill="#73E5BF"/><circle cx="1179.0" cy="1413.2" r="6.4" fill="#B2F1DC"/><circle cx="1179.0" cy="1413.2" r="3.4" fill="#F7FEFB"/><circle cx="1147.1" cy="1374.5" r="18.2" fill="#00D08A"/><circle cx="1141.5" cy="1368.9" r="9.5" fill="#73E5BF"/><circle cx="1141.5" cy="1368.9" r="6.4" fill="#B2F1DC"/><circle cx="1141.5" cy="1368.9" r="3.4" fill="#F7FEFB"/><circle cx="1110.2" cy="1328.1" r="18.2" fill="#00D08A"/><circle cx="1104.6" cy="1322.5" r="9.5" fill="#73E5BF"/><circle cx="1104.6" cy="1322.5" r="6.4" fill="#B2F1DC"/><circle cx="1104.6" cy="1322.5" r="3.4" fill="#F7FEFB"/><circle cx="1072.1" cy="1315.0" r="18.2" fill="#00D08A"/><circle cx="1066.5" cy="1309.4" r="9.5" fill="#73E5BF"/><circle cx="1066.5" cy="1309.4" r="6.4" fill="#B2F1DC"/><circle cx="1066.5" cy="1309.4" r="3.4" fill="#F7FEFB"/><circle cx="1034.5" cy="1315.0" r="18.2" fill="#00D08A"/><circle cx="1028.9" cy="1309.4" r="9.5" fill="#73E5BF"/><circle cx="1028.9" cy="1309.4" r="6.4" fill="#B2F1DC"/><circle cx="1028.9" cy="1309.4" r="3.4" fill="#F7FEFB"/><circle cx="997.6" cy="1258.6" r="18.2" fill="#00D08A"/><circle cx="992.0" cy="1253.0" r="9.5" fill="#73E5BF"/><circle cx="992.0" cy="1253.0" r="6.4" fill="#B2F1DC"/><circle cx="992.0" cy="1253.0" r="3.4" fill="#F7FEFB"/><circle cx="959.5" cy="1110.7" r="18.2" fill="#00D08A"/><circle cx="953.9" cy="1105.1" r="9.5" fill="#73E5BF"/><circle cx="953.9" cy="1105.1" r="6.4" fill="#B2F1DC"/><circle cx="953.9" cy="1105.1" r="3.4" fill="#F7FEFB"/><circle cx="921.9" cy="1058.6" r="18.2" fill="#00D08A"/><circle cx="916.3" cy="1053.0" r="9.5" fill="#73E5BF"/><circle cx="916.3" cy="1053.0" r="6.4" fill="#B2F1DC"/><circle cx="916.3" cy="1053.0" r="3.4" fill="#F7FEFB"/><circle cx="884.5" cy="1138.1" r="18.2" fill="#00D08A"/><circle cx="878.9" cy="1132.5" r="9.5" fill="#73E5BF"/><circle cx="878.9" cy="1132.5" r="6.4" fill="#B2F1DC"/><circle cx="878.9" cy="1132.5" r="3.4" fill="#F7FEFB"/><circle cx="846.4" cy="1208.6" r="18.2" fill="#00D08A"/><circle cx="840.8" cy="1203.0" r="9.5" fill="#73E5BF"/><circle cx="840.8" cy="1203.0" r="6.4" fill="#B2F1DC"/><circle cx="840.8" cy="1203.0" r="3.4" fill="#F7FEFB"/><circle cx="809.5" cy="1222.1" r="18.2" fill="#00D08A"/><circle cx="803.9" cy="1216.5" r="9.5" fill="#73E5BF"/><circle cx="803.9" cy="1216.5" r="6.4" fill="#B2F1DC"/><circle cx="803.9" cy="1216.5" r="3.4" fill="#F7FEFB"/><circle cx="772.1" cy="1281.0" r="18.2" fill="#00D08A"/><circle cx="766.5" cy="1275.4" r="9.5" fill="#73E5BF"/><circle cx="766.5" cy="1275.4" r="6.4" fill="#B2F1DC"/><circle cx="766.5" cy="1275.4" r="3.4" fill="#F7FEFB"/><circle cx="735.2" cy="1405.5" r="18.2" fill="#00D08A"/><circle cx="729.6" cy="1399.9" r="9.5" fill="#73E5BF"/><circle cx="729.6" cy="1399.9" r="6.4" fill="#B2F1DC"/><circle cx="729.6" cy="1399.9" r="3.4" fill="#F7FEFB"/><circle cx="697.7" cy="1445.6" r="18.2" fill="#00D08A"/><circle cx="692.1" cy="1440.0" r="9.5" fill="#73E5BF"/><circle cx="692.1" cy="1440.0" r="6.4" fill="#B2F1DC"/><circle cx="692.1" cy="1440.0" r="3.4" fill="#F7FEFB"/><circle cx="658.3" cy="1434.4" r="18.2" fill="#00D08A"/><circle cx="652.7" cy="1428.8" r="9.5" fill="#73E5BF"/><circle cx="652.7" cy="1428.8" r="6.4" fill="#B2F1DC"/><circle cx="652.7" cy="1428.8" r="3.4" fill="#F7FEFB"/><circle cx="623.8" cy="1428.4" r="18.2" fill="#00D08A"/><circle cx="618.2" cy="1422.8" r="9.5" fill="#73E5BF"/><circle cx="618.2" cy="1422.8" r="6.4" fill="#B2F1DC"/><circle cx="618.2" cy="1422.8" r="3.4" fill="#F7FEFB"/><circle cx="583.3" cy="1432.0" r="18.2" fill="#00D08A"/><circle cx="577.7" cy="1426.4" r="9.5" fill="#73E5BF"/><circle cx="577.7" cy="1426.4" r="6.4" fill="#B2F1DC"/><circle cx="577.7" cy="1426.4" r="3.4" fill="#F7FEFB"/><circle cx="547.6" cy="1442.6" r="18.2" fill="#00D08A"/><circle cx="542.0" cy="1437.0" r="9.5" fill="#73E5BF"/><circle cx="542.0" cy="1437.0" r="6.4" fill="#B2F1DC"/><circle cx="542.0" cy="1437.0" r="3.4" fill="#F7FEFB"/><circle cx="509.5" cy="1439.0" r="18.2" fill="#00D08A"/><circle cx="503.9" cy="1433.4" r="9.5" fill="#73E5BF"/><circle cx="503.9" cy="1433.4" r="6.4" fill="#B2F1DC"/><circle cx="503.9" cy="1433.4" r="3.4" fill="#F7FEFB"/><circle cx="472.7" cy="1420.0" r="18.2" fill="#00D08A"/><circle cx="467.1" cy="1414.4" r="9.5" fill="#73E5BF"/><circle cx="467.1" cy="1414.4" r="6.4" fill="#B2F1DC"/><circle cx="467.1" cy="1414.4" r="3.4" fill="#F7FEFB"/><circle cx="437.0" cy="1420.6" r="18.2" fill="#00D08A"/><circle cx="431.4" cy="1415.0" r="9.5" fill="#73E5BF"/><circle cx="431.4" cy="1415.0" r="6.4" fill="#B2F1DC"/><circle cx="431.4" cy="1415.0" r="3.4" fill="#F7FEFB"/><circle cx="397.0" cy="1432.0" r="18.2" fill="#00D08A"/><circle cx="391.4" cy="1426.4" r="9.5" fill="#73E5BF"/><circle cx="391.4" cy="1426.4" r="6.4" fill="#B2F1DC"/><circle cx="391.4" cy="1426.4" r="3.4" fill="#F7FEFB"/><circle cx="361.2" cy="1437.9" r="18.2" fill="#00D08A"/><circle cx="355.6" cy="1432.3" r="9.5" fill="#73E5BF"/><circle cx="355.6" cy="1432.3" r="6.4" fill="#B2F1DC"/><circle cx="355.6" cy="1432.3" r="3.4" fill="#F7FEFB"/><circle cx="327.9" cy="1438.5" r="18.2" fill="#00D08A"/><circle cx="322.3" cy="1432.9" r="9.5" fill="#73E5BF"/><circle cx="322.3" cy="1432.9" r="6.4" fill="#B2F1DC"/><circle cx="322.3" cy="1432.9" r="3.4" fill="#F7FEFB"/>
<polyline points="328.6,1436.5 366.2,1437.0 403.9,1435.0 441.5,1439.5 479.2,1436.0 516.8,1433.0 554.4,1436.0 592.1,1436.7 629.7,1439.0 667.4,1436.0 705.0,1436.0 742.6,1437.5 780.3,1436.0 817.9,1432.0 855.6,1434.5 893.2,1434.0 930.8,1435.5 968.5,1434.3 1006.1,1435.5 1043.8,1437.0 1081.4,1438.0 1119.0,1431.8 1156.7,1438.0 1194.3,1440.6 1232.0,1439.4 1269.6,1442.9 1307.2,1452.0 1344.9,1605.7 1382.5,1810.0 1420.2,1712.9 1457.8,1494.3 1495.4,1448.3 1533.1,1443.0 1570.7,1436.0 1608.4,1432.2" fill="none" stroke="#00D08A" stroke-width="3" stroke-linejoin="round"/>
<path d="M328.6,1415.1 L334.4,1428.5 L349.0,1429.9 L338.0,1439.5 L341.2,1453.8 L328.6,1446.3 L316.0,1453.8 L319.2,1439.5 L308.2,1429.9 L322.8,1428.5Z M366.2,1415.6 L372.0,1429.0 L386.6,1430.4 L375.6,1440.0 L378.8,1454.3 L366.2,1446.8 L353.7,1454.3 L356.9,1440.0 L345.9,1430.4 L360.5,1429.0Z M403.9,1413.6 L409.7,1427.0 L424.2,1428.4 L413.2,1438.0 L416.5,1452.3 L403.9,1444.8 L391.3,1452.3 L394.5,1438.0 L383.5,1428.4 L398.1,1427.0Z M441.5,1418.1 L447.3,1431.5 L461.9,1432.9 L450.9,1442.5 L454.1,1456.8 L441.5,1449.3 L428.9,1456.8 L432.2,1442.5 L421.2,1432.9 L435.7,1431.5Z M479.2,1414.6 L484.9,1428.0 L499.5,1429.4 L488.5,1439.0 L491.7,1453.3 L479.2,1445.8 L466.6,1453.3 L469.8,1439.0 L458.8,1429.4 L473.4,1428.0Z M516.8,1411.6 L522.6,1425.0 L537.2,1426.4 L526.2,1436.0 L529.4,1450.3 L516.8,1442.8 L504.2,1450.3 L507.4,1436.0 L496.4,1426.4 L511.0,1425.0Z M554.4,1414.6 L560.2,1428.0 L574.8,1429.4 L563.8,1439.0 L567.0,1453.3 L554.4,1445.8 L541.9,1453.3 L545.1,1439.0 L534.1,1429.4 L548.7,1428.0Z M592.1,1415.3 L597.9,1428.7 L612.4,1430.1 L601.4,1439.7 L604.7,1454.0 L592.1,1446.5 L579.5,1454.0 L582.7,1439.7 L571.7,1430.1 L586.3,1428.7Z M629.7,1417.6 L635.5,1431.0 L650.1,1432.4 L639.1,1442.0 L642.3,1456.3 L629.7,1448.8 L617.1,1456.3 L620.4,1442.0 L609.4,1432.4 L623.9,1431.0Z M667.4,1414.6 L673.1,1428.0 L687.7,1429.4 L676.7,1439.0 L679.9,1453.3 L667.4,1445.8 L654.8,1453.3 L658.0,1439.0 L647.0,1429.4 L661.6,1428.0Z M705.0,1414.6 L710.8,1428.0 L725.4,1429.4 L714.4,1439.0 L717.6,1453.3 L705.0,1445.8 L692.4,1453.3 L695.6,1439.0 L684.6,1429.4 L699.2,1428.0Z M742.6,1416.1 L748.4,1429.5 L763.0,1430.9 L752.0,1440.5 L755.2,1454.8 L742.6,1447.3 L730.1,1454.8 L733.3,1440.5 L722.3,1430.9 L736.9,1429.5Z M780.3,1414.6 L786.1,1428.0 L800.6,1429.4 L789.6,1439.0 L792.9,1453.3 L780.3,1445.8 L767.7,1453.3 L770.9,1439.0 L759.9,1429.4 L774.5,1428.0Z M817.9,1410.6 L823.7,1424.0 L838.3,1425.4 L827.3,1435.0 L830.5,1449.3 L817.9,1441.8 L805.3,1449.3 L808.6,1435.0 L797.6,1425.4 L812.1,1424.0Z M855.6,1413.1 L861.3,1426.5 L875.9,1427.9 L864.9,1437.5 L868.1,1451.8 L855.6,1444.3 L843.0,1451.8 L846.2,1437.5 L835.2,1427.9 L849.8,1426.5Z M893.2,1412.6 L899.0,1426.0 L913.6,1427.4 L902.6,1437.0 L905.8,1451.3 L893.2,1443.8 L880.6,1451.3 L883.8,1437.0 L872.8,1427.4 L887.4,1426.0Z M930.8,1414.1 L936.6,1427.5 L951.2,1428.9 L940.2,1438.5 L943.4,1452.8 L930.8,1445.3 L918.3,1452.8 L921.5,1438.5 L910.5,1428.9 L925.1,1427.5Z M968.5,1412.9 L974.3,1426.3 L988.8,1427.7 L977.8,1437.3 L981.1,1451.6 L968.5,1444.1 L955.9,1451.6 L959.1,1437.3 L948.1,1427.7 L962.7,1426.3Z M1006.1,1414.1 L1011.9,1427.5 L1026.5,1428.9 L1015.5,1438.5 L1018.7,1452.8 L1006.1,1445.3 L993.5,1452.8 L996.8,1438.5 L985.8,1428.9 L1000.3,1427.5Z M1043.8,1415.6 L1049.5,1429.0 L1064.1,1430.4 L1053.1,1440.0 L1056.3,1454.3 L1043.8,1446.8 L1031.2,1454.3 L1034.4,1440.0 L1023.4,1430.4 L1038.0,1429.0Z M1081.4,1416.6 L1087.2,1430.0 L1101.8,1431.4 L1090.8,1441.0 L1094.0,1455.3 L1081.4,1447.8 L1068.8,1455.3 L1072.0,1441.0 L1061.0,1431.4 L1075.6,1430.0Z M1119.0,1410.4 L1124.8,1423.8 L1139.4,1425.2 L1128.4,1434.8 L1131.6,1449.1 L1119.0,1441.6 L1106.5,1449.1 L1109.7,1434.8 L1098.7,1425.2 L1113.3,1423.8Z M1156.7,1416.6 L1162.5,1430.0 L1177.0,1431.4 L1166.0,1441.0 L1169.3,1455.3 L1156.7,1447.8 L1144.1,1455.3 L1147.3,1441.0 L1136.3,1431.4 L1150.9,1430.0Z M1194.3,1419.2 L1200.1,1432.6 L1214.7,1434.0 L1203.7,1443.6 L1206.9,1457.9 L1194.3,1450.4 L1181.7,1457.9 L1185.0,1443.6 L1174.0,1434.0 L1188.5,1432.6Z M1232.0,1418.0 L1237.7,1431.4 L1252.3,1432.8 L1241.3,1442.4 L1244.5,1456.7 L1232.0,1449.2 L1219.4,1456.7 L1222.6,1442.4 L1211.6,1432.8 L1226.2,1431.4Z M1269.6,1421.5 L1275.4,1434.9 L1290.0,1436.3 L1279.0,1445.9 L1282.2,1460.2 L1269.6,1452.7 L1257.0,1460.2 L1260.2,1445.9 L1249.2,1436.3 L1263.8,1434.9Z M1307.2,1430.6 L1313.0,1444.0 L1327.6,1445.4 L1316.6,1455.0 L1319.8,1469.3 L1307.2,1461.8 L1294.7,1469.3 L1297.9,1455.0 L1286.9,1445.4 L1301.5,1444.0Z M1344.9,1584.3 L1350.7,1597.7 L1365.2,1599.1 L1354.2,1608.7 L1357.5,1623.0 L1344.9,1615.5 L1332.3,1623.0 L1335.5,1608.7 L1324.5,1599.1 L1339.1,1597.7Z M1382.5,1788.6 L1388.3,1802.0 L1402.9,1803.4 L1391.9,1813.0 L1395.1,1827.3 L1382.5,1819.8 L1369.9,1827.3 L1373.2,1813.0 L1362.2,1803.4 L1376.7,1802.0Z M1420.2,1691.5 L1425.9,1704.9 L1440.5,1706.3 L1429.5,1715.9 L1432.7,1730.2 L1420.2,1722.7 L1407.6,1730.2 L1410.8,1715.9 L1399.8,1706.3 L1414.4,1704.9Z M1457.8,1472.9 L1463.6,1486.3 L1478.2,1487.7 L1467.2,1497.3 L1470.4,1511.6 L1457.8,1504.1 L1445.2,1511.6 L1448.4,1497.3 L1437.4,1487.7 L1452.0,1486.3Z M1495.4,1426.9 L1501.2,1440.3 L1515.8,1441.7 L1504.8,1451.3 L1508.0,1465.6 L1495.4,1458.1 L1482.9,1465.6 L1486.1,1451.3 L1475.1,1441.7 L1489.7,1440.3Z M1533.1,1421.6 L1538.9,1435.0 L1553.4,1436.4 L1542.4,1446.0 L1545.7,1460.3 L1533.1,1452.8 L1520.5,1460.3 L1523.7,1446.0 L1512.7,1436.4 L1527.3,1435.0Z M1570.7,1414.6 L1576.5,1428.0 L1591.1,1429.4 L1580.1,1439.0 L1583.3,1453.3 L1570.7,1445.8 L1558.1,1453.3 L1561.4,1439.0 L1550.4,1429.4 L1564.9,1428.0Z M1608.4,1410.8 L1614.1,1424.2 L1628.7,1425.6 L1617.7,1435.2 L1620.9,1449.5 L1608.4,1442.0 L1595.8,1449.5 L1599.0,1435.2 L1588.0,1425.6 L1602.6,1424.2Z" fill="#00D08A"/>
<polyline points="1635.0,1431.0 1600.4,1430.7 1562.3,1430.1 1525.4,1432.5 1487.3,1433.7 1451.6,1434.3 1412.0,1435.0 1375.0,1430.5 1337.6,1430.7 1300.7,1433.7 1262.0,1428.9 1225.7,1406.3 1188.6,1155.2 1151.2,1058.6 1113.1,1287.6 1075.7,1405.3 1037.6,1433.0 999.7,1435.6 962.4,1433.1 925.0,1435.1 887.5,1435.1 850.1,1434.1 811.6,1435.1 775.2,1435.1 737.7,1433.1 700.3,1433.1 661.6,1434.1 625.8,1435.3 587.7,1433.5 550.2,1432.3 512.0,1437.0 475.1,1434.1 438.2,1431.1 399.5,1432.9 362.0,1433.5 326.9,1432.3" fill="none" stroke="#FF0000" stroke-width="3" stroke-linejoin="round"/>
<circle cx="1635.0" cy="1431.0" r="18.2" fill="#FF0000"/><circle cx="1629.4" cy="1425.4" r="9.5" fill="#FF7373"/><circle cx="1629.4" cy="1425.4" r="6.4" fill="#FFB2B2"/><circle cx="1629.4" cy="1425.4" r="3.4" fill="#FFF7F7"/><circle cx="1600.4" cy="1430.7" r="18.2" fill="#FF0000"/><circle cx="1594.8" cy="1425.1" r="9.5" fill="#FF7373"/><circle cx="1594.8" cy="1425.1" r="6.4" fill="#FFB2B2"/><circle cx="1594.8" cy="1425.1" r="3.4" fill="#FFF7F7"/><circle cx="1562.3" cy="1430.1" r="18.2" fill="#FF0000"/><circle cx="1556.7" cy="1424.5" r="9.5" fill="#FF7373"/><circle cx="1556.7" cy="1424.5" r="6.4" fill="#FFB2B2"/><circle cx="1556.7" cy="1424.5" r="3.4" fill="#FFF7F7"/><circle cx="1525.4" cy="1432.5" r="18.2" fill="#FF0000"/><circle cx="1519.8" cy="1426.9" r="9.5" fill="#FF7373"/><circle cx="1519.8" cy="1426.9" r="6.4" fill="#FFB2B2"/><circle cx="1519.8" cy="1426.9" r="3.4" fill="#FFF7F7"/><circle cx="1487.3" cy="1433.7" r="18.2" fill="#FF0000"/><circle cx="1481.7" cy="1428.1" r="9.5" fill="#FF7373"/><circle cx="1481.7" cy="1428.1" r="6.4" fill="#FFB2B2"/><circle cx="1481.7" cy="1428.1" r="3.4" fill="#FFF7F7"/><circle cx="1451.6" cy="1434.3" r="18.2" fill="#FF0000"/><circle cx="1446.0" cy="1428.7" r="9.5" fill="#FF7373"/><circle cx="1446.0" cy="1428.7" r="6.4" fill="#FFB2B2"/><circle cx="1446.0" cy="1428.7" r="3.4" fill="#FFF7F7"/><circle cx="1412.0" cy="1435.0" r="18.2" fill="#FF0000"/><circle cx="1406.4" cy="1429.4" r="9.5" fill="#FF7373"/><circle cx="1406.4" cy="1429.4" r="6.4" fill="#FFB2B2"/><circle cx="1406.4" cy="1429.4" r="3.4" fill="#FFF7F7"/><circle cx="1375.0" cy="1430.5" r="18.2" fill="#FF0000"/><circle cx="1369.4" cy="1424.9" r="9.5" fill="#FF7373"/><circle cx="1369.4" cy="1424.9" r="6.4" fill="#FFB2B2"/><circle cx="1369.4" cy="1424.9" r="3.4" fill="#FFF7F7"/><circle cx="1337.6" cy="1430.7" r="18.2" fill="#FF0000"/><circle cx="1332.0" cy="1425.1" r="9.5" fill="#FF7373"/><circle cx="1332.0" cy="1425.1" r="6.4" fill="#FFB2B2"/><circle cx="1332.0" cy="1425.1" r="3.4" fill="#FFF7F7"/><circle cx="1300.7" cy="1433.7" r="18.2" fill="#FF0000"/><circle cx="1295.1" cy="1428.1" r="9.5" fill="#FF7373"/><circle cx="1295.1" cy="1428.1" r="6.4" fill="#FFB2B2"/><circle cx="1295.1" cy="1428.1" r="3.4" fill="#FFF7F7"/><circle cx="1262.0" cy="1428.9" r="18.2" fill="#FF0000"/><circle cx="1256.4" cy="1423.3" r="9.5" fill="#FF7373"/><circle cx="1256.4" cy="1423.3" r="6.4" fill="#FFB2B2"/><circle cx="1256.4" cy="1423.3" r="3.4" fill="#FFF7F7"/><circle cx="1225.7" cy="1406.3" r="18.2" fill="#FF0000"/><circle cx="1220.1" cy="1400.7" r="9.5" fill="#FF7373"/><circle cx="1220.1" cy="1400.7" r="6.4" fill="#FFB2B2"/><circle cx="1220.1" cy="1400.7" r="3.4" fill="#FFF7F7"/><circle cx="1188.6" cy="1155.2" r="18.2" fill="#FF0000"/><circle cx="1183.0" cy="1149.6" r="9.5" fill="#FF7373"/><circle cx="1183.0" cy="1149.6" r="6.4" fill="#FFB2B2"/><circle cx="1183.0" cy="1149.6" r="3.4" fill="#FFF7F7"/><circle cx="1151.2" cy="1058.6" r="18.2" fill="#FF0000"/><circle cx="1145.6" cy="1053.0" r="9.5" fill="#FF7373"/><circle cx="1145.6" cy="1053.0" r="6.4" fill="#FFB2B2"/><circle cx="1145.6" cy="1053.0" r="3.4" fill="#FFF7F7"/><circle cx="1113.1" cy="1287.6" r="18.2" fill="#FF0000"/><circle cx="1107.5" cy="1282.0" r="9.5" fill="#FF7373"/><circle cx="1107.5" cy="1282.0" r="6.4" fill="#FFB2B2"/><circle cx="1107.5" cy="1282.0" r="3.4" fill="#FFF7F7"/><circle cx="1075.7" cy="1405.3" r="18.2" fill="#FF0000"/><circle cx="1070.1" cy="1399.7" r="9.5" fill="#FF7373"/><circle cx="1070.1" cy="1399.7" r="6.4" fill="#FFB2B2"/><circle cx="1070.1" cy="1399.7" r="3.4" fill="#FFF7F7"/><circle cx="1037.6" cy="1433.0" r="18.2" fill="#FF0000"/><circle cx="1032.0" cy="1427.4" r="9.5" fill="#FF7373"/><circle cx="1032.0" cy="1427.4" r="6.4" fill="#FFB2B2"/><circle cx="1032.0" cy="1427.4" r="3.4" fill="#FFF7F7"/><circle cx="999.7" cy="1435.6" r="18.2" fill="#FF0000"/><circle cx="994.1" cy="1430.0" r="9.5" fill="#FF7373"/><circle cx="994.1" cy="1430.0" r="6.4" fill="#FFB2B2"/><circle cx="994.1" cy="1430.0" r="3.4" fill="#FFF7F7"/><circle cx="962.4" cy="1433.1" r="18.2" fill="#FF0000"/><circle cx="956.8" cy="1427.5" r="9.5" fill="#FF7373"/><circle cx="956.8" cy="1427.5" r="6.4" fill="#FFB2B2"/><circle cx="956.8" cy="1427.5" r="3.4" fill="#FFF7F7"/><circle cx="925.0" cy="1435.1" r="18.2" fill="#FF0000"/><circle cx="919.4" cy="1429.5" r="9.5" fill="#FF7373"/><circle cx="919.4" cy="1429.5" r="6.4" fill="#FFB2B2"/><circle cx="919.4" cy="1429.5" r="3.4" fill="#FFF7F7"/><circle cx="887.5" cy="1435.1" r="18.2" fill="#FF0000"/><circle cx="881.9" cy="1429.5" r="9.5" fill="#FF7373"/><circle cx="881.9" cy="1429.5" r="6.4" fill="#FFB2B2"/><circle cx="881.9" cy="1429.5" r="3.4" fill="#FFF7F7"/><circle cx="850.1" cy="1434.1" r="18.2" fill="#FF0000"/><circle cx="844.5" cy="1428.5" r="9.5" fill="#FF7373"/><circle cx="844.5" cy="1428.5" r="6.4" fill="#FFB2B2"/><circle cx="844.5" cy="1428.5" r="3.4" fill="#FFF7F7"/><circle cx="811.6" cy="1435.1" r="18.2" fill="#FF0000"/><circle cx="806.0" cy="1429.5" r="9.5" fill="#FF7373"/><circle cx="806.0" cy="1429.5" r="6.4" fill="#FFB2B2"/><circle cx="806.0" cy="1429.5" r="3.4" fill="#FFF7F7"/><circle cx="775.2" cy="1435.1" r="18.2" fill="#FF0000"/><circle cx="769.6" cy="1429.5" r="9.5" fill="#FF7373"/><circle cx="769.6" cy="1429.5" r="6.4" fill="#FFB2B2"/><circle cx="769.6" cy="1429.5" r="3.4" fill="#FFF7F7"/><circle cx="737.7" cy="1433.1" r="18.2" fill="#FF0000"/><circle cx="732.1" cy="1427.5" r="9.5" fill="#FF7373"/><circle cx="732.1" cy="1427.5" r="6.4" fill="#FFB2B2"/><circle cx="732.1" cy="1427.5" r="3.4" fill="#FFF7F7"/><circle cx="700.3" cy="1433.1" r="18.2" fill="#FF0000"/><circle cx="694.7" cy="1427.5" r="9.5" fill="#FF7373"/><circle cx="694.7" cy="1427.5" r="6.4" fill="#FFB2B2"/><circle cx="694.7" cy="1427.5" r="3.4" fill="#FFF7F7"/><circle cx="661.6" cy="1434.1" r="18.2" fill="#FF0000"/><circle cx="656.0" cy="1428.5" r="9.5" fill="#FF7373"/><circle cx="656.0" cy="1428.5" r="6.4" fill="#FFB2B2"/><circle cx="656.0" cy="1428.5" r="3.4" fill="#FFF7F7"/><circle cx="625.8" cy="1435.3" r="18.2" fill="#FF0000"/><circle cx="620.2" cy="1429.7" r="9.5" fill="#FF7373"/><circle cx="620.2" cy="1429.7" r="6.4" fill="#FFB2B2"/><circle cx="620.2" cy="1429.7" r="3.4" fill="#FFF7F7"/><circle cx="587.7" cy="1433.5" r="18.2" fill="#FF0000"/><circle cx="582.1" cy="1427.9" r="9.5" fill="#FF7373"/><circle cx="582.1" cy="1427.9" r="6.4" fill="#FFB2B2"/><circle cx="582.1" cy="1427.9" r="3.4" fill="#FFF7F7"/><circle cx="550.2" cy="1432.3" r="18.2" fill="#FF0000"/><circle cx="544.6" cy="1426.7" r="9.5" fill="#FF7373"/><circle cx="544.6" cy="1426.7" r="6.4" fill="#FFB2B2"/><circle cx="544.6" cy="1426.7" r="3.4" fill="#FFF7F7"/><circle cx="512.0" cy="1437.0" r="18.2" fill="#FF0000"/><circle cx="506.4" cy="1431.4" r="9.5" fill="#FF7373"/><circle cx="506.4" cy="1431.4" r="6.4" fill="#FFB2B2"/><circle cx="506.4" cy="1431.4" r="3.4" fill="#FFF7F7"/><circle cx="475.1" cy="1434.1" r="18.2" fill="#FF0000"/><circle cx="469.5" cy="1428.5" r="9.5" fill="#FF7373"/><circle cx="469.5" cy="1428.5" r="6.4" fill="#FFB2B2"/><circle cx="469.5" cy="1428.5" r="3.4" fill="#FFF7F7"/><circle cx="438.2" cy="1431.1" r="18.2" fill="#FF0000"/><circle cx="432.6" cy="1425.5" r="9.5" fill="#FF7373"/><circle cx="432.6" cy="1425.5" r="6.4" fill="#FFB2B2"/><circle cx="432.6" cy="1425.5" r="3.4" fill="#FFF7F7"/><circle cx="399.5" cy="1432.9" r="18.2" fill="#FF0000"/><circle cx="393.9" cy="1427.3" r="9.5" fill="#FF7373"/><circle cx="393.9" cy="1427.3" r="6.4" fill="#FFB2B2"/><circle cx="393.9" cy="1427.3" r="3.4" fill="#FFF7F7"/><circle cx="362.0" cy="1433.5" r="18.2" fill="#FF0000"/><circle cx="356.4" cy="1427.9" r="9.5" fill="#FF7373"/><circle cx="356.4" cy="1427.9" r="6.4" fill="#FFB2B2"/><circle cx="356.4" cy="1427.9" r="3.4" fill="#FFF7F7"/><circle cx="326.9" cy="1432.3" r="18.2" fill="#FF0000"/><circle cx="321.3" cy="1426.7" r="9.5" fill="#FF7373"/><circle cx="321.3" cy="1426.7" r="6.4" fill="#FFB2B2"/><circle cx="321.3" cy="1426.7" r="3.4" fill="#FFF7F7"/>
<polyline points="328.6,1435.2 366.2,1435.7 403.9,1433.4 441.5,1438.2 479.2,1434.7 516.8,1431.6 554.4,1434.6 592.1,1435.2 629.7,1437.6 667.4,1434.6 705.0,1434.4 742.6,1436.0 780.3,1434.4 817.9,1432.4 855.6,1433.2 893.2,1432.4 930.8,1434.0 968.5,1432.8 1006.1,1434.0 1043.8,1435.0 1081.4,1441.0 1119.0,1436.4 1156.7,1437.4 1194.3,1435.8 1232.0,1435.8 1269.6,1437.0 1307.2,1472.5 1344.9,1732.7 1382.5,1811.6 1420.2,1570.0 1457.8,1456.0 1495.4,1439.4 1533.1,1440.6 1570.7,1435.2 1608.4,1435.8" fill="none" stroke="#FF0000" stroke-width="3" stroke-linejoin="round"/>
<path d="M328.6,1413.8 L334.4,1427.2 L349.0,1428.6 L338.0,1438.2 L341.2,1452.5 L328.6,1445.0 L316.0,1452.5 L319.2,1438.2 L308.2,1428.6 L322.8,1427.2Z M366.2,1414.3 L372.0,1427.7 L386.6,1429.1 L375.6,1438.7 L378.8,1453.0 L366.2,1445.5 L353.7,1453.0 L356.9,1438.7 L345.9,1429.1 L360.5,1427.7Z M403.9,1412.0 L409.7,1425.4 L424.2,1426.8 L413.2,1436.4 L416.5,1450.7 L403.9,1443.2 L391.3,1450.7 L394.5,1436.4 L383.5,1426.8 L398.1,1425.4Z M441.5,1416.8 L447.3,1430.2 L461.9,1431.6 L450.9,1441.2 L454.1,1455.5 L441.5,1448.0 L428.9,1455.5 L432.2,1441.2 L421.2,1431.6 L435.7,1430.2Z M479.2,1413.3 L484.9,1426.7 L499.5,1428.1 L488.5,1437.7 L491.7,1452.0 L479.2,1444.5 L466.6,1452.0 L469.8,1437.7 L458.8,1428.1 L473.4,1426.7Z M516.8,1410.2 L522.6,1423.6 L537.2,1425.0 L526.2,1434.6 L529.4,1448.9 L516.8,1441.4 L504.2,1448.9 L507.4,1434.6 L496.4,1425.0 L511.0,1423.6Z M554.4,1413.2 L560.2,1426.6 L574.8,1428.0 L563.8,1437.6 L567.0,1451.9 L554.4,1444.4 L541.9,1451.9 L545.1,1437.6 L534.1,1428.0 L548.7,1426.6Z M592.1,1413.8 L597.9,1427.2 L612.4,1428.6 L601.4,1438.2 L604.7,1452.5 L592.1,1445.0 L579.5,1452.5 L582.7,1438.2 L571.7,1428.6 L586.3,1427.2Z M629.7,1416.2 L635.5,1429.6 L650.1,1431.0 L639.1,1440.6 L642.3,1454.9 L629.7,1447.4 L617.1,1454.9 L620.4,1440.6 L609.4,1431.0 L623.9,1429.6Z M667.4,1413.2 L673.1,1426.6 L687.7,1428.0 L676.7,1437.6 L679.9,1451.9 L667.4,1444.4 L654.8,1451.9 L658.0,1437.6 L647.0,1428.0 L661.6,1426.6Z M705.0,1413.0 L710.8,1426.4 L725.4,1427.8 L714.4,1437.4 L717.6,1451.7 L705.0,1444.2 L692.4,1451.7 L695.6,1437.4 L684.6,1427.8 L699.2,1426.4Z M742.6,1414.6 L748.4,1428.0 L763.0,1429.4 L752.0,1439.0 L755.2,1453.3 L742.6,1445.8 L730.1,1453.3 L733.3,1439.0 L722.3,1429.4 L736.9,1428.0Z M780.3,1413.0 L786.1,1426.4 L800.6,1427.8 L789.6,1437.4 L792.9,1451.7 L780.3,1444.2 L767.7,1451.7 L770.9,1437.4 L759.9,1427.8 L774.5,1426.4Z M817.9,1411.0 L823.7,1424.4 L838.3,1425.8 L827.3,1435.4 L830.5,1449.7 L817.9,1442.2 L805.3,1449.7 L808.6,1435.4 L797.6,1425.8 L812.1,1424.4Z M855.6,1411.8 L861.3,1425.2 L875.9,1426.6 L864.9,1436.2 L868.1,1450.5 L855.6,1443.0 L843.0,1450.5 L846.2,1436.2 L835.2,1426.6 L849.8,1425.2Z M893.2,1411.0 L899.0,1424.4 L913.6,1425.8 L902.6,1435.4 L905.8,1449.7 L893.2,1442.2 L880.6,1449.7 L883.8,1435.4 L872.8,1425.8 L887.4,1424.4Z M930.8,1412.6 L936.6,1426.0 L951.2,1427.4 L940.2,1437.0 L943.4,1451.3 L930.8,1443.8 L918.3,1451.3 L921.5,1437.0 L910.5,1427.4 L925.1,1426.0Z M968.5,1411.4 L974.3,1424.8 L988.8,1426.2 L977.8,1435.8 L981.1,1450.1 L968.5,1442.6 L955.9,1450.1 L959.1,1435.8 L948.1,1426.2 L962.7,1424.8Z M1006.1,1412.6 L1011.9,1426.0 L1026.5,1427.4 L1015.5,1437.0 L1018.7,1451.3 L1006.1,1443.8 L993.5,1451.3 L996.8,1437.0 L985.8,1427.4 L1000.3,1426.0Z M1043.8,1413.6 L1049.5,1427.0 L1064.1,1428.4 L1053.1,1438.0 L1056.3,1452.3 L1043.8,1444.8 L1031.2,1452.3 L1034.4,1438.0 L1023.4,1428.4 L1038.0,1427.0Z M1081.4,1419.6 L1087.2,1433.0 L1101.8,1434.4 L1090.8,1444.0 L1094.0,1458.3 L1081.4,1450.8 L1068.8,1458.3 L1072.0,1444.0 L1061.0,1434.4 L1075.6,1433.0Z M1119.0,1415.0 L1124.8,1428.4 L1139.4,1429.8 L1128.4,1439.4 L1131.6,1453.7 L1119.0,1446.2 L1106.5,1453.7 L1109.7,1439.4 L1098.7,1429.8 L1113.3,1428.4Z M1156.7,1416.0 L1162.5,1429.4 L1177.0,1430.8 L1166.0,1440.4 L1169.3,1454.7 L1156.7,1447.2 L1144.1,1454.7 L1147.3,1440.4 L1136.3,1430.8 L1150.9,1429.4Z M1194.3,1414.4 L1200.1,1427.8 L1214.7,1429.2 L1203.7,1438.8 L1206.9,1453.1 L1194.3,1445.6 L1181.7,1453.1 L1185.0,1438.8 L1174.0,1429.2 L1188.5,1427.8Z M1232.0,1414.4 L1237.7,1427.8 L1252.3,1429.2 L1241.3,1438.8 L1244.5,1453.1 L1232.0,1445.6 L1219.4,1453.1 L1222.6,1438.8 L1211.6,1429.2 L1226.2,1427.8Z M1269.6,1415.6 L1275.4,1429.0 L1290.0,1430.4 L1279.0,1440.0 L1282.2,1454.3 L1269.6,1446.8 L1257.0,1454.3 L1260.2,1440.0 L1249.2,1430.4 L1263.8,1429.0Z M1307.2,1451.1 L1313.0,1464.5 L1327.6,1465.9 L1316.6,1475.5 L1319.8,1489.8 L1307.2,1482.3 L1294.7,1489.8 L1297.9,1475.5 L1286.9,1465.9 L1301.5,1464.5Z M1344.9,1711.3 L1350.7,1724.7 L1365.2,1726.1 L1354.2,1735.7 L1357.5,1750.0 L1344.9,1742.5 L1332.3,1750.0 L1335.5,1735.7 L1324.5,1726.1 L1339.1,1724.7Z M1382.5,1790.2 L1388.3,1803.6 L1402.9,1805.0 L1391.9,1814.6 L1395.1,1828.9 L1382.5,1821.4 L1369.9,1828.9 L1373.2,1814.6 L1362.2,1805.0 L1376.7,1803.6Z M1420.2,1548.6 L1425.9,1562.0 L1440.5,1563.4 L1429.5,1573.0 L1432.7,1587.3 L1420.2,1579.8 L1407.6,1587.3 L1410.8,1573.0 L1399.8,1563.4 L1414.4,1562.0Z M1457.8,1434.6 L1463.6,1448.0 L1478.2,1449.4 L1467.2,1459.0 L1470.4,1473.3 L1457.8,1465.8 L1445.2,1473.3 L1448.4,1459.0 L1437.4,1449.4 L1452.0,1448.0Z M1495.4,1418.0 L1501.2,1431.4 L1515.8,1432.8 L1504.8,1442.4 L1508.0,1456.7 L1495.4,1449.2 L1482.9,1456.7 L1486.1,1442.4 L1475.1,1432.8 L1489.7,1431.4Z M1533.1,1419.2 L1538.9,1432.6 L1553.4,1434.0 L1542.4,1443.6 L1545.7,1457.9 L1533.1,1450.4 L1520.5,1457.9 L1523.7,1443.6 L1512.7,1434.0 L1527.3,1432.6Z M1570.7,1413.8 L1576.5,1427.2 L1591.1,1428.6 L1580.1,1438.2 L1583.3,1452.5 L1570.7,1445.0 L1558.1,1452.5 L1561.4,1438.2 L1550.4,1428.6 L1564.9,1427.2Z M1608.4,1414.4 L1614.1,1427.8 L1628.7,1429.2 L1617.7,1438.8 L1620.9,1453.1 L1608.4,1445.6 L1595.8,1453.1 L1599.0,1438.8 L1588.0,1429.2 L1602.6,1427.8Z" fill="#FF0000"/>
</g>
<rect x="319.0" y="1432.0" width="1313.0" height="6.0" fill="#000"/>
<rect x="1255.0" y="967.0" width="5.0" height="21.0" fill="#000"/>
<rect x="1255.0" y="1078.0" width="5.0" height="714.0" fill="#000"/>
<rect x="1255.0" y="1884.0" width="5.0" height="19.5" fill="#000"/>
<rect x="326.5" y="193.0" width="183.5" height="3" fill="#0000FF"/>
<circle cx="417.7" cy="194.5" r="18.2" fill="#0000FF"/><circle cx="412.1" cy="188.9" r="9.5" fill="#7373FF"/><circle cx="412.1" cy="188.9" r="6.4" fill="#B2B2FF"/><circle cx="412.1" cy="188.9" r="3.4" fill="#F7F7FF"/>
<rect x="326.5" y="291.5" width="183.5" height="3" fill="#00D08A"/>
<circle cx="417.7" cy="293.0" r="18.2" fill="#00D08A"/><circle cx="412.1" cy="287.4" r="9.5" fill="#73E5BF"/><circle cx="412.1" cy="287.4" r="6.4" fill="#B2F1DC"/><circle cx="412.1" cy="287.4" r="3.4" fill="#F7FEFB"/>
<rect x="326.5" y="390.0" width="183.5" height="3" fill="#FF0000"/>
<circle cx="417.7" cy="391.5" r="18.2" fill="#FF0000"/><circle cx="412.1" cy="385.9" r="9.5" fill="#FF7373"/><circle cx="412.1" cy="385.9" r="6.4" fill="#FFB2B2"/><circle cx="412.1" cy="385.9" r="3.4" fill="#FFF7F7"/>
<text x="279.0" y="138.8" font-size="81" text-anchor="end" font-family="Liberation Sans, Arial, sans-serif" >1.0</text>
<text x="280.0" y="1082.2" font-size="81" text-anchor="end" font-family="Liberation Sans, Arial, sans-serif" >1.0</text>
<text x="279.0" y="327.0" font-size="81" text-anchor="end" font-family="Liberation Sans, Arial, sans-serif" >0.5</text>
<text x="280.0" y="1270.5" font-size="81" text-anchor="end" font-family="Liberation Sans, Arial, sans-serif" >0.5</text>
<text x="279.0" y="515.2" font-size="81" text-anchor="end" font-family="Liberation Sans, Arial, sans-serif" >0.0</text>
<text x="280.0" y="1458.8" font-size="81" text-anchor="end" font-family="Liberation Sans, Arial, sans-serif" >0.0</text>
<text x="279.0" y="703.4" font-size="81" text-anchor="end" font-family="Liberation Sans, Arial, sans-serif" >-0.5</text>
<text x="280.0" y="1647.1" font-size="81" text-anchor="end" font-family="Liberation Sans, Arial, sans-serif" >-0.5</text>
<text x="279.0" y="891.6" font-size="81" text-anchor="end" font-family="Liberation Sans, Arial, sans-serif" >-1.0</text>
<text x="280.0" y="1835.4" font-size="81" text-anchor="end" font-family="Liberation Sans, Arial, sans-serif" >-1.0</text>
<text x="316.4" y="2004.0" font-size="81" text-anchor="middle" font-family="Liberation Sans, Arial, sans-serif" >-50</text>
<text x="504.6" y="2004.0" font-size="81" text-anchor="middle" font-family="Liberation Sans, Arial, sans-serif" >-40</text>
<text x="692.8" y="2004.0" font-size="81" text-anchor="middle" font-family="Liberation Sans, Arial, sans-serif" >-30</text>
<text x="881.0" y="2004.0" font-size="81" text-anchor="middle" font-family="Liberation Sans, Arial, sans-serif" >-20</text>
<text x="1069.2" y="2004.0" font-size="81" text-anchor="middle" font-family="Liberation Sans, Arial, sans-serif" >-10</text>
<text x="1257.4" y="2004.0" font-size="81" text-anchor="middle" font-family="Liberation Sans, Arial, sans-serif" >0</text>
<text x="1445.6" y="2004.0" font-size="81" text-anchor="middle" font-family="Liberation Sans, Arial, sans-serif" >10</text>
<text x="1633.8" y="2004.0" font-size="81" text-anchor="middle" font-family="Liberation Sans, Arial, sans-serif" >20</text>
<text x="326.6" y="122.0" font-size="93" text-anchor="start" font-family="Liberation Sans, Arial, sans-serif" letter-spacing="1.6">(a)</text>
<text x="332.4" y="1066.2" font-size="93" text-anchor="start" font-family="Liberation Sans, Arial, sans-serif" letter-spacing="1.6">(b)</text>
<text x="531.3" y="222.0" font-size="82" text-anchor="start" font-family="Liberation Sans, Arial, sans-serif" >80 K</text>
<text x="531.3" y="320.5" font-size="82" text-anchor="start" font-family="Liberation Sans, Arial, sans-serif" >150 K</text>
<text x="531.3" y="419.0" font-size="82" text-anchor="start" font-family="Liberation Sans, Arial, sans-serif" >300 K</text>
<text x="1195.5" y="1060.4" font-size="82" text-anchor="start" font-family="Liberation Sans, Arial, sans-serif" >descending</text>
<text x="944.5" y="1867.2" font-size="82" text-anchor="start" font-family="Liberation Sans, Arial, sans-serif" >ascending</text>
<text x="857.9" y="2161.8" font-size="116" font-family="Liberation Sans, Arial, sans-serif" font-style="italic">H</text>
<text x="968.9" y="2161.8" font-size="111" font-family="Liberation Sans, Arial, sans-serif" >(</text>
<text x="1008.7" y="2161.8" font-size="116" font-family="Liberation Sans, Arial, sans-serif" >O</text>
<text x="1097.1" y="2161.8" font-size="116" font-family="Liberation Sans, Arial, sans-serif" >e</text>
<text x="1167.1" y="2161.8" font-size="111" font-family="Liberation Sans, Arial, sans-serif" >)</text>
<text transform="translate(101.7,624.6) rotate(-90)" font-size="116" font-family="Liberation Sans, Arial, sans-serif" font-style="italic">M</text>
<text transform="translate(101.7,532.6) rotate(-90)" font-size="116" font-family="Liberation Sans, Arial, sans-serif" >/</text>
<text transform="translate(101.7,498.6) rotate(-90)" font-size="116" font-family="Liberation Sans, Arial, sans-serif" font-style="italic">M</text>
<text transform="translate(133.7,406.5) rotate(-90)" font-size="78" font-family="Liberation Sans, Arial, sans-serif" >S</text>
<text transform="translate(102.2,1867.9) rotate(-90)" font-size="116" font-family="Liberation Serif, serif" >&#8706;</text>
<text transform="translate(101.9,1780.7) rotate(-90)" font-size="116" font-family="Liberation Sans, Arial, sans-serif" >M</text>
<text transform="translate(101.9,1685.0) rotate(-90)" font-size="116" font-family="Liberation Sans, Arial, sans-serif" >/</text>
<text transform="translate(102.2,1653.9) rotate(-90)" font-size="116" font-family="Liberation Serif, serif" >&#8706;</text>
<text transform="translate(101.9,1568.4) rotate(-90)" font-size="116" font-family="Liberation Sans, Arial, sans-serif" >H</text>
<text transform="translate(101.9,1455.9) rotate(-90)" font-size="95" font-family="Liberation Sans, Arial, sans-serif" >(arb. units)</text>
</svg>
</body></html>
